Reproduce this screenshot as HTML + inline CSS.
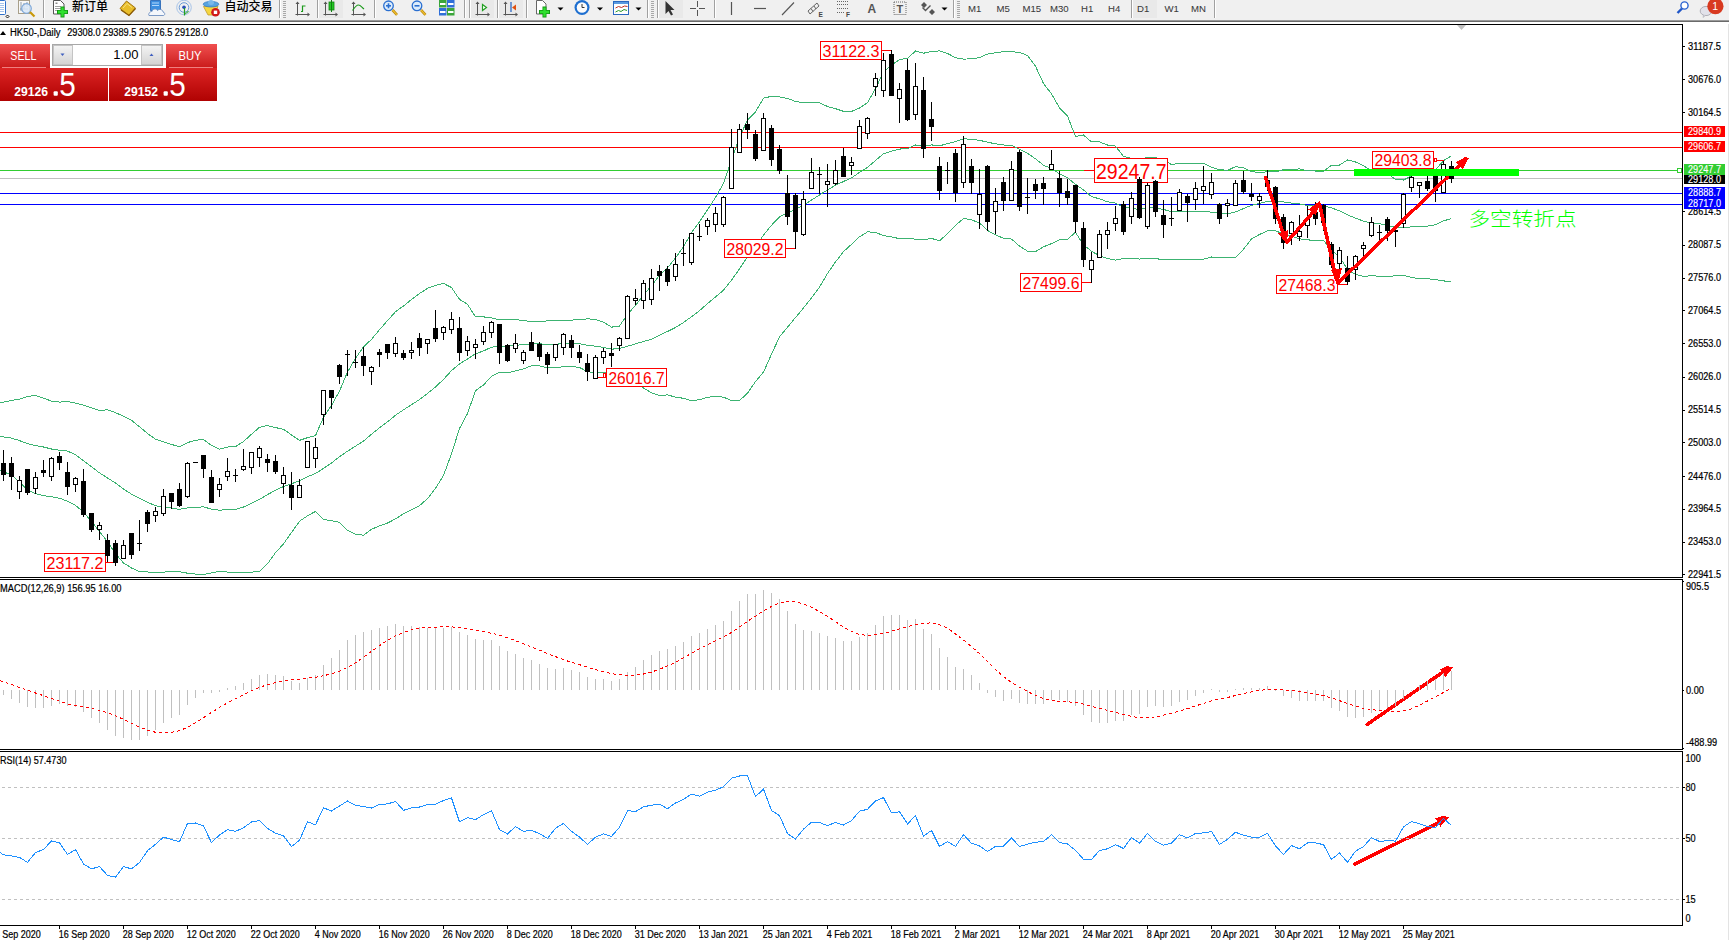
<!DOCTYPE html>
<html><head><meta charset="utf-8"><title>HK50 Daily</title><style>html,body{margin:0;padding:0;background:#fff;width:1729px;height:940px;overflow:hidden}</style></head><body>
<svg width="1729" height="940" viewBox="0 0 1729 940" style="position:absolute;left:0;top:0">
<rect x="0" y="0" width="1729" height="940" fill="#ffffff"/>
<g shape-rendering="crispEdges">
<rect x="0" y="132" width="1682" height="1" fill="#ff0000"/>
<rect x="0" y="147" width="1682" height="1" fill="#ff0000"/>
<rect x="0" y="170" width="1682" height="1" fill="#32cd32"/>
<rect x="0" y="178" width="1682" height="1" fill="#c0c0c0"/>
<rect x="0" y="193" width="1682" height="1" fill="#0000ff"/>
<rect x="0" y="204" width="1682" height="1" fill="#0000ff"/>
</g>
<g fill="none" stroke="#3cb371" stroke-width="1" shape-rendering="crispEdges">
<polyline points="0,402.74 3.5,402.1 11.5,400.5 19.5,399.1 27.5,396.5 35.5,395.5 43.5,398.1 51.5,401.1 59.5,402.1 67.5,401.5 75.5,403.1 83.5,405.2 91.5,407.8 99.5,410.6 107.5,409.8 115.5,412.6 123.5,416.3 131.5,420.3 139.5,426.8 147.5,433.5 155.5,439.25 163.5,441.74 171.5,444.37 179.5,446.9 187.5,442.64 195.5,440.2 203.5,439.44 211.5,445.38 219.5,449.18 227.5,447.04 235.5,446.59 243.5,441.56 251.5,434.25 259.5,427.25 267.5,425.52 275.5,427.59 283.5,429.24 291.5,434.94 299.5,440.37 307.5,437.65 315.5,435.72 323.5,417.17 331.5,405.44 339.5,391.04 347.5,372.06 355.5,358.29 363.5,346.93 371.5,339.34 379.5,329.71 387.5,320.65 395.5,311.66 403.5,305.97 411.5,299.55 419.5,293.56 427.5,288.36 435.5,285.32 443.5,283.37 451.5,287.55 459.5,299.32 467.5,304.33 475.5,316.9 483.5,316.87 491.5,317.93 499.5,319.82 507.5,319.64 515.5,319.71 523.5,320.44 531.5,321.72 539.5,321.67 547.5,320.86 555.5,320.9 563.5,320.06 571.5,320.04 579.5,319.84 587.5,318.77 595.5,319.48 603.5,322.04 611.5,327.15 619.5,326.04 627.5,314.26 635.5,305.48 643.5,294.91 651.5,285.7 659.5,275.31 667.5,267.98 675.5,257.88 683.5,246.71 691.5,232.7 699.5,221.77 707.5,209.86 715.5,197.46 723.5,183.2 731.5,159.84 739.5,137.09 747.5,120.23 755.5,111.9 763.5,98.17 771.5,96.29 779.5,96.82 787.5,98.44 795.5,101.47 803.5,102.63 811.5,102.11 819.5,102.71 827.5,106.47 835.5,108.69 843.5,111.35 851.5,111.49 859.5,108.03 867.5,102.72 875.5,88.78 883.5,71.82 891.5,65.23 899.5,59.5 907.5,58.5 915.5,50.96 923.5,53.26 931.5,51.38 939.5,50.93 947.5,53.39 955.5,57.71 963.5,59.16 971.5,58.75 979.5,57.61 987.5,54.07 995.5,52.67 1003.5,51.61 1011.5,51.66 1019.5,52.49 1027.5,55.42 1035.5,66.14 1043.5,83.63 1051.5,93.75 1059.5,107.84 1067.5,116.03 1075.5,136.56 1083.5,135 1091.5,141.96 1099.5,141.92 1107.5,145.01 1115.5,146.13 1123.5,156.36 1131.5,158.39 1139.5,159.9 1147.5,157.35 1155.5,157.9 1163.5,158.79 1171.5,164.62 1179.5,163.23 1187.5,163.7 1195.5,163.46 1203.5,163.25 1211.5,167.35 1219.5,169.61 1227.5,170.36 1235.5,166.66 1243.5,167.85 1251.5,171.74 1259.5,172.41 1267.5,171.85 1275.5,171.85 1283.5,169.76 1291.5,169.84 1299.5,168.8 1307.5,170.99 1315.5,171 1323.5,171.14 1331.5,165.3 1339.5,165.05 1347.5,159.99 1355.5,161.97 1363.5,165.73 1371.5,170.6 1379.5,171.26 1387.5,173.38 1395.5,179.44 1403.5,180.03 1411.5,176.08 1419.5,173.27 1427.5,173.53 1435.5,169.84 1443.5,160.71 1451.5,155.75"/>
<polyline points="0,436.42 3.5,436.9 11.5,438.1 19.5,440.6 27.5,443.6 35.5,445.6 43.5,447 51.5,449 59.5,450.3 67.5,451.1 75.5,454.7 83.5,460.8 91.5,466.8 99.5,472.9 107.5,478 115.5,483 123.5,489.1 131.5,494.1 139.5,498.2 147.5,502.2 155.5,505.81 163.5,506.89 171.5,508.1 179.5,509.36 187.5,507.91 195.5,507.16 203.5,506.92 211.5,509.12 219.5,510.26 227.5,509.55 235.5,509.41 243.5,507.04 251.5,503.18 259.5,499.32 267.5,494.66 275.5,490.09 283.5,486.59 291.5,483.75 299.5,480.82 307.5,476.74 315.5,473.57 323.5,468.3 331.5,463.1 339.5,456.65 347.5,451.21 355.5,446.2 363.5,441.05 371.5,434.3 379.5,427.81 387.5,421.85 395.5,415.28 403.5,409.79 411.5,404.69 419.5,399.6 427.5,393.5 435.5,386.86 443.5,379.47 451.5,370.6 459.5,363.95 467.5,358.95 475.5,353.82 483.5,350.92 491.5,347.18 499.5,345.95 507.5,346.22 515.5,345.28 523.5,344.65 531.5,343.78 539.5,343.83 547.5,344.4 555.5,344.43 563.5,343.3 571.5,343.16 579.5,343.66 587.5,345.22 595.5,346.19 603.5,347.38 611.5,349.18 619.5,348.51 627.5,346.25 635.5,343.9 643.5,341.45 651.5,339.26 659.5,335.4 667.5,331.45 675.5,327.49 683.5,322.51 691.5,316.69 699.5,310.71 707.5,303.55 715.5,297 723.5,290.16 731.5,280.19 739.5,268.83 747.5,256.73 755.5,246.75 763.5,235.1 771.5,225.27 779.5,216.83 787.5,212.81 795.5,209.5 803.5,205.31 811.5,200.02 819.5,194.96 827.5,189.99 835.5,185.3 843.5,181.49 851.5,177.9 859.5,172.42 867.5,167.31 875.5,160.56 883.5,153.72 891.5,151.08 899.5,149.07 907.5,148.6 915.5,145.01 923.5,146.51 931.5,144.88 939.5,145.87 947.5,143.58 955.5,141.59 963.5,138.81 971.5,139.27 979.5,140.27 987.5,142.23 995.5,143.78 1003.5,144.96 1011.5,145.34 1019.5,149.32 1027.5,153.26 1035.5,158.85 1043.5,165.22 1051.5,168.67 1059.5,173.79 1067.5,177.66 1075.5,184.41 1083.5,189.93 1091.5,196.61 1099.5,198.83 1107.5,201.81 1115.5,203.11 1123.5,207.47 1131.5,208.3 1139.5,209.46 1147.5,207.69 1155.5,208.17 1163.5,209.39 1171.5,211.83 1179.5,211.15 1187.5,211.38 1195.5,211.3 1203.5,211.23 1211.5,212.18 1219.5,213.47 1227.5,213.8 1235.5,211.94 1243.5,208.54 1251.5,205.34 1259.5,203.45 1267.5,201.3 1275.5,201.3 1283.5,201.89 1291.5,203.07 1299.5,203.81 1307.5,205.42 1315.5,205.76 1323.5,205.62 1331.5,207.92 1339.5,210.82 1347.5,214.79 1355.5,218.19 1363.5,221.12 1371.5,223.08 1379.5,223.82 1387.5,225.14 1395.5,227.54 1403.5,227.69 1411.5,226.78 1419.5,226.05 1427.5,226.11 1435.5,224.72 1443.5,220.82 1451.5,218.63"/>
<polyline points="0,470.7 3.5,471.9 11.5,474.9 19.5,482 27.5,490.1 35.5,493.5 43.5,495.6 51.5,496.8 59.5,498.2 67.5,501.2 75.5,505.3 83.5,512.3 91.5,521.4 99.5,531.6 107.5,541.7 115.5,553.8 123.5,562.9 131.5,568 139.5,571.6 147.5,572 155.5,572.37 163.5,572.04 171.5,571.83 179.5,571.81 187.5,573.17 195.5,574.12 203.5,574.41 211.5,572.87 219.5,571.34 227.5,572.07 235.5,572.23 243.5,572.53 251.5,572.11 259.5,571.4 267.5,563.81 275.5,552.6 283.5,543.94 291.5,532.55 299.5,521.27 307.5,515.83 315.5,511.42 323.5,519.43 331.5,520.75 339.5,522.26 347.5,530.37 355.5,534.11 363.5,535.16 371.5,529.25 379.5,525.9 387.5,523.05 395.5,518.9 403.5,513.61 411.5,509.83 419.5,505.65 427.5,498.64 435.5,488.4 443.5,475.56 451.5,453.66 459.5,428.59 467.5,413.58 475.5,390.74 483.5,384.96 491.5,376.42 499.5,372.08 507.5,372.79 515.5,370.85 523.5,368.86 531.5,365.84 539.5,365.99 547.5,367.93 555.5,367.96 563.5,366.53 571.5,366.27 579.5,367.47 587.5,371.66 595.5,372.89 603.5,372.72 611.5,371.21 619.5,370.98 627.5,378.24 635.5,382.32 643.5,387.98 651.5,392.83 659.5,395.5 667.5,394.92 675.5,397.09 683.5,398.31 691.5,400.67 699.5,399.65 707.5,397.24 715.5,396.55 723.5,397.13 731.5,400.55 739.5,400.57 747.5,393.23 755.5,381.59 763.5,372.03 771.5,354.24 779.5,336.84 787.5,327.18 795.5,317.54 803.5,307.99 811.5,297.92 819.5,287.2 827.5,273.51 835.5,261.9 843.5,251.63 851.5,244.31 859.5,236.81 867.5,231.89 875.5,232.34 883.5,235.61 891.5,236.93 899.5,238.65 907.5,238.71 915.5,239.06 923.5,239.77 931.5,238.37 939.5,240.81 947.5,233.78 955.5,225.47 963.5,218.46 971.5,219.79 979.5,222.93 987.5,230.4 995.5,234.9 1003.5,238.31 1011.5,239.03 1019.5,246.15 1027.5,251.11 1035.5,251.56 1043.5,246.82 1051.5,243.59 1059.5,239.74 1067.5,239.3 1075.5,232.27 1083.5,244.86 1091.5,251.26 1099.5,255.75 1107.5,258.61 1115.5,260.09 1123.5,258.57 1131.5,258.21 1139.5,259.02 1147.5,258.04 1155.5,258.43 1163.5,259.99 1171.5,259.04 1179.5,259.07 1187.5,259.07 1195.5,259.14 1203.5,259.21 1211.5,257 1219.5,257.33 1227.5,257.25 1235.5,257.22 1243.5,249.22 1251.5,238.93 1259.5,234.49 1267.5,230.74 1275.5,230.74 1283.5,234.01 1291.5,236.31 1299.5,238.82 1307.5,239.84 1315.5,240.52 1323.5,240.1 1331.5,250.53 1339.5,256.59 1347.5,269.59 1355.5,274.4 1363.5,276.52 1371.5,275.56 1379.5,276.38 1387.5,276.9 1395.5,275.64 1403.5,275.35 1411.5,277.47 1419.5,278.83 1427.5,278.7 1435.5,279.59 1443.5,280.93 1451.5,281.52"/>
</g>
<g shape-rendering="crispEdges" fill="none" stroke="#ff0000" stroke-width="1">
<rect x="820.5" y="41.5" width="61" height="18" fill="#ffffff"/>
<line x1="882" y1="50.5" x2="892" y2="50.5"/>
<rect x="724.5" y="239.5" width="61" height="18" fill="#ffffff"/>
<line x1="786" y1="248.5" x2="796" y2="248.5"/>
<rect x="1020.5" y="273.5" width="61" height="18" fill="#ffffff"/>
<line x1="1082" y1="282.5" x2="1092" y2="282.5"/>
<rect x="606.5" y="368.5" width="60" height="18" fill="#ffffff"/>
<line x1="595" y1="377.5" x2="606" y2="377.5"/>
<rect x="44.5" y="553.5" width="61" height="18" fill="#ffffff"/>
<line x1="106" y1="562.5" x2="116" y2="562.5"/>
<rect x="1276.5" y="275.5" width="61" height="18" fill="#ffffff"/>
<line x1="1338" y1="284.5" x2="1348" y2="284.5"/>
<rect x="1372.5" y="151.5" width="61" height="17" fill="#ffffff"/>
<line x1="1434" y1="160.5" x2="1444" y2="160.5"/>
<rect x="1094.5" y="158.5" width="73" height="24" fill="#ffffff"/>
<line x1="1084" y1="170.5" x2="1094" y2="170.5"/>
</g>
<g shape-rendering="crispEdges" fill="#ffffff" stroke="#ff0000">
<rect x="603.5" y="373.5" width="2" height="4"/>
<rect x="1434.5" y="158.5" width="2" height="3"/>
</g>
<text x="822.5" y="57" font-family="Liberation Sans, Arial, sans-serif" font-size="16.3" fill="#ff0000" textLength="57" lengthAdjust="spacingAndGlyphs">31122.3</text>
<text x="726.5" y="255" font-family="Liberation Sans, Arial, sans-serif" font-size="16.3" fill="#ff0000" textLength="57" lengthAdjust="spacingAndGlyphs">28029.2</text>
<text x="1022.5" y="289" font-family="Liberation Sans, Arial, sans-serif" font-size="16.3" fill="#ff0000" textLength="57" lengthAdjust="spacingAndGlyphs">27499.6</text>
<text x="608.5" y="384" font-family="Liberation Sans, Arial, sans-serif" font-size="16.3" fill="#ff0000" textLength="56" lengthAdjust="spacingAndGlyphs">26016.7</text>
<text x="46.5" y="569" font-family="Liberation Sans, Arial, sans-serif" font-size="16.3" fill="#ff0000" textLength="57" lengthAdjust="spacingAndGlyphs">23117.2</text>
<text x="1278.5" y="291" font-family="Liberation Sans, Arial, sans-serif" font-size="16.3" fill="#ff0000" textLength="57" lengthAdjust="spacingAndGlyphs">27468.3</text>
<text x="1374.5" y="166" font-family="Liberation Sans, Arial, sans-serif" font-size="16.3" fill="#ff0000" textLength="57" lengthAdjust="spacingAndGlyphs">29403.8</text>
<text x="1096" y="179" font-family="Liberation Sans, Arial, sans-serif" font-size="22" fill="#ff0000" textLength="70.5" lengthAdjust="spacingAndGlyphs">29247.7</text>
<g shape-rendering="crispEdges">
<rect x="3" y="450" width="1" height="31" fill="#000"/>
<rect x="1" y="463" width="5" height="12" fill="#000"/>
<rect x="11" y="457" width="1" height="33" fill="#000"/>
<rect x="9" y="463" width="5" height="14" fill="#000"/>
<rect x="19" y="476" width="1" height="23" fill="#000"/>
<rect x="17.5" y="480.5" width="4" height="11" fill="#fff" stroke="#000" stroke-width="1"/>
<rect x="27" y="469" width="1" height="26" fill="#000"/>
<rect x="25" y="469" width="5" height="24" fill="#000"/>
<rect x="35" y="472" width="1" height="22" fill="#000"/>
<rect x="33.5" y="477.5" width="4" height="11" fill="#fff" stroke="#000" stroke-width="1"/>
<rect x="43" y="460" width="1" height="17" fill="#000"/>
<rect x="41" y="470" width="5" height="3" fill="#000"/>
<rect x="51" y="457" width="1" height="24" fill="#000"/>
<rect x="49.5" y="458.5" width="4" height="18" fill="#fff" stroke="#000" stroke-width="1"/>
<rect x="59" y="452" width="1" height="18" fill="#000"/>
<rect x="57" y="456" width="5" height="7" fill="#000"/>
<rect x="67" y="462" width="1" height="33" fill="#000"/>
<rect x="65" y="472" width="5" height="15" fill="#000"/>
<rect x="75" y="477" width="1" height="15" fill="#000"/>
<rect x="73.5" y="478.5" width="4" height="6" fill="#fff" stroke="#000" stroke-width="1"/>
<rect x="83" y="469" width="1" height="48" fill="#000"/>
<rect x="81" y="481" width="5" height="34" fill="#000"/>
<rect x="91" y="513" width="1" height="19" fill="#000"/>
<rect x="89" y="513" width="5" height="17" fill="#000"/>
<rect x="99" y="522" width="1" height="18" fill="#000"/>
<rect x="97.5" y="525.5" width="4" height="4" fill="#fff" stroke="#000" stroke-width="1"/>
<rect x="107" y="534" width="1" height="28" fill="#000"/>
<rect x="105" y="540" width="5" height="16" fill="#000"/>
<rect x="115" y="540" width="1" height="26" fill="#000"/>
<rect x="113" y="543" width="5" height="20" fill="#000"/>
<rect x="123" y="540" width="1" height="19" fill="#000"/>
<rect x="121.5" y="545.5" width="4" height="13" fill="#fff" stroke="#000" stroke-width="1"/>
<rect x="131" y="533" width="1" height="26" fill="#000"/>
<rect x="129" y="533" width="5" height="22" fill="#000"/>
<rect x="139" y="520" width="1" height="31" fill="#000"/>
<rect x="137" y="543" width="5" height="1" fill="#000"/>
<rect x="147" y="510" width="1" height="22" fill="#000"/>
<rect x="145" y="512" width="5" height="12" fill="#000"/>
<rect x="155" y="507" width="1" height="15" fill="#000"/>
<rect x="153.5" y="511.5" width="4" height="4" fill="#fff" stroke="#000" stroke-width="1"/>
<rect x="163" y="489" width="1" height="27" fill="#000"/>
<rect x="161.5" y="496.5" width="4" height="17" fill="#fff" stroke="#000" stroke-width="1"/>
<rect x="171" y="493" width="1" height="16" fill="#000"/>
<rect x="169" y="493" width="5" height="9" fill="#000"/>
<rect x="179" y="483" width="1" height="24" fill="#000"/>
<rect x="177" y="489" width="5" height="17" fill="#000"/>
<rect x="187" y="462" width="1" height="36" fill="#000"/>
<rect x="185.5" y="463.5" width="4" height="33" fill="#fff" stroke="#000" stroke-width="1"/>
<rect x="195" y="462" width="1" height="1" fill="#000"/>
<rect x="193" y="462" width="5" height="1" fill="#000"/>
<rect x="203" y="455" width="1" height="23" fill="#000"/>
<rect x="201" y="455" width="5" height="14" fill="#000"/>
<rect x="211" y="470" width="1" height="33" fill="#000"/>
<rect x="209" y="477" width="5" height="26" fill="#000"/>
<rect x="219" y="478" width="1" height="19" fill="#000"/>
<rect x="217.5" y="484.5" width="4" height="5" fill="#fff" stroke="#000" stroke-width="1"/>
<rect x="227" y="458" width="1" height="23" fill="#000"/>
<rect x="225.5" y="471.5" width="4" height="5" fill="#fff" stroke="#000" stroke-width="1"/>
<rect x="235" y="469" width="1" height="13" fill="#000"/>
<rect x="233" y="475" width="5" height="1" fill="#000"/>
<rect x="243" y="449" width="1" height="22" fill="#000"/>
<rect x="241.5" y="466.5" width="4" height="3" fill="#fff" stroke="#000" stroke-width="1"/>
<rect x="251" y="452" width="1" height="22" fill="#000"/>
<rect x="249.5" y="452.5" width="4" height="15" fill="#fff" stroke="#000" stroke-width="1"/>
<rect x="259" y="446" width="1" height="21" fill="#000"/>
<rect x="257.5" y="448.5" width="4" height="9" fill="#fff" stroke="#000" stroke-width="1"/>
<rect x="267" y="454" width="1" height="18" fill="#000"/>
<rect x="265" y="459" width="5" height="4" fill="#000"/>
<rect x="275" y="455" width="1" height="19" fill="#000"/>
<rect x="273" y="461" width="5" height="11" fill="#000"/>
<rect x="283" y="467" width="1" height="27" fill="#000"/>
<rect x="281.5" y="475.5" width="4" height="8" fill="#fff" stroke="#000" stroke-width="1"/>
<rect x="291" y="472" width="1" height="38" fill="#000"/>
<rect x="289" y="485" width="5" height="13" fill="#000"/>
<rect x="299" y="479" width="1" height="19" fill="#000"/>
<rect x="297.5" y="485.5" width="4" height="12" fill="#fff" stroke="#000" stroke-width="1"/>
<rect x="307" y="441" width="1" height="27" fill="#000"/>
<rect x="305.5" y="441.5" width="4" height="26" fill="#fff" stroke="#000" stroke-width="1"/>
<rect x="315" y="438" width="1" height="30" fill="#000"/>
<rect x="313.5" y="447.5" width="4" height="11" fill="#fff" stroke="#000" stroke-width="1"/>
<rect x="323" y="390" width="1" height="35" fill="#000"/>
<rect x="321.5" y="390.5" width="4" height="24" fill="#fff" stroke="#000" stroke-width="1"/>
<rect x="331" y="390" width="1" height="19" fill="#000"/>
<rect x="329" y="390" width="5" height="8" fill="#000"/>
<rect x="339" y="364" width="1" height="20" fill="#000"/>
<rect x="337" y="365" width="5" height="12" fill="#000"/>
<rect x="347" y="350" width="1" height="26" fill="#000"/>
<rect x="345" y="354" width="5" height="1" fill="#000"/>
<rect x="355" y="350" width="1" height="18" fill="#000"/>
<rect x="353" y="362" width="5" height="1" fill="#000"/>
<rect x="363" y="347" width="1" height="29" fill="#000"/>
<rect x="361" y="356" width="5" height="10" fill="#000"/>
<rect x="371" y="366" width="1" height="19" fill="#000"/>
<rect x="369.5" y="367.5" width="4" height="4" fill="#fff" stroke="#000" stroke-width="1"/>
<rect x="379" y="349" width="1" height="18" fill="#000"/>
<rect x="377" y="352" width="5" height="3" fill="#000"/>
<rect x="387" y="344" width="1" height="15" fill="#000"/>
<rect x="385" y="344" width="5" height="9" fill="#000"/>
<rect x="395" y="337" width="1" height="20" fill="#000"/>
<rect x="393.5" y="343.5" width="4" height="10" fill="#fff" stroke="#000" stroke-width="1"/>
<rect x="403" y="350" width="1" height="10" fill="#000"/>
<rect x="401" y="353" width="5" height="5" fill="#000"/>
<rect x="411" y="342" width="1" height="17" fill="#000"/>
<rect x="409.5" y="350.5" width="4" height="2" fill="#fff" stroke="#000" stroke-width="1"/>
<rect x="419" y="333" width="1" height="23" fill="#000"/>
<rect x="417" y="338" width="5" height="10" fill="#000"/>
<rect x="427" y="339" width="1" height="15" fill="#000"/>
<rect x="425.5" y="339.5" width="4" height="4" fill="#fff" stroke="#000" stroke-width="1"/>
<rect x="435" y="310" width="1" height="32" fill="#000"/>
<rect x="433" y="328" width="5" height="11" fill="#000"/>
<rect x="443" y="326" width="1" height="14" fill="#000"/>
<rect x="441.5" y="327.5" width="4" height="5" fill="#fff" stroke="#000" stroke-width="1"/>
<rect x="451" y="312" width="1" height="22" fill="#000"/>
<rect x="449.5" y="319.5" width="4" height="10" fill="#fff" stroke="#000" stroke-width="1"/>
<rect x="459" y="317" width="1" height="44" fill="#000"/>
<rect x="457" y="328" width="5" height="25" fill="#000"/>
<rect x="467" y="336" width="1" height="20" fill="#000"/>
<rect x="465.5" y="341.5" width="4" height="9" fill="#fff" stroke="#000" stroke-width="1"/>
<rect x="475" y="339" width="1" height="20" fill="#000"/>
<rect x="473.5" y="344.5" width="4" height="3" fill="#fff" stroke="#000" stroke-width="1"/>
<rect x="483" y="326" width="1" height="19" fill="#000"/>
<rect x="481.5" y="332.5" width="4" height="9" fill="#fff" stroke="#000" stroke-width="1"/>
<rect x="491" y="321" width="1" height="17" fill="#000"/>
<rect x="489.5" y="322.5" width="4" height="10" fill="#fff" stroke="#000" stroke-width="1"/>
<rect x="499" y="324" width="1" height="40" fill="#000"/>
<rect x="497" y="324" width="5" height="29" fill="#000"/>
<rect x="507" y="344" width="1" height="18" fill="#000"/>
<rect x="505" y="345" width="5" height="16" fill="#000"/>
<rect x="515" y="334" width="1" height="19" fill="#000"/>
<rect x="513.5" y="343.5" width="4" height="5" fill="#fff" stroke="#000" stroke-width="1"/>
<rect x="523" y="350" width="1" height="14" fill="#000"/>
<rect x="521.5" y="352.5" width="4" height="8" fill="#fff" stroke="#000" stroke-width="1"/>
<rect x="531" y="332" width="1" height="19" fill="#000"/>
<rect x="529" y="342" width="5" height="9" fill="#000"/>
<rect x="539" y="342" width="1" height="19" fill="#000"/>
<rect x="537" y="344" width="5" height="13" fill="#000"/>
<rect x="547" y="352" width="1" height="22" fill="#000"/>
<rect x="545" y="354" width="5" height="11" fill="#000"/>
<rect x="555" y="344" width="1" height="17" fill="#000"/>
<rect x="553.5" y="344.5" width="4" height="13" fill="#fff" stroke="#000" stroke-width="1"/>
<rect x="563" y="333" width="1" height="22" fill="#000"/>
<rect x="561.5" y="334.5" width="4" height="13" fill="#fff" stroke="#000" stroke-width="1"/>
<rect x="571" y="335" width="1" height="23" fill="#000"/>
<rect x="569" y="340" width="5" height="8" fill="#000"/>
<rect x="579" y="345" width="1" height="18" fill="#000"/>
<rect x="577" y="352" width="5" height="6" fill="#000"/>
<rect x="587" y="354" width="1" height="27" fill="#000"/>
<rect x="585" y="363" width="5" height="9" fill="#000"/>
<rect x="595" y="355" width="1" height="24" fill="#000"/>
<rect x="593.5" y="357.5" width="4" height="21" fill="#fff" stroke="#000" stroke-width="1"/>
<rect x="603" y="348" width="1" height="16" fill="#000"/>
<rect x="601.5" y="351.5" width="4" height="6" fill="#fff" stroke="#000" stroke-width="1"/>
<rect x="611" y="343" width="1" height="24" fill="#000"/>
<rect x="609" y="353" width="5" height="3" fill="#000"/>
<rect x="619" y="337" width="1" height="14" fill="#000"/>
<rect x="617.5" y="338.5" width="4" height="7" fill="#fff" stroke="#000" stroke-width="1"/>
<rect x="627" y="295" width="1" height="44" fill="#000"/>
<rect x="625.5" y="296.5" width="4" height="42" fill="#fff" stroke="#000" stroke-width="1"/>
<rect x="635" y="289" width="1" height="16" fill="#000"/>
<rect x="633.5" y="298.5" width="4" height="2" fill="#fff" stroke="#000" stroke-width="1"/>
<rect x="643" y="280" width="1" height="29" fill="#000"/>
<rect x="641.5" y="283.5" width="4" height="17" fill="#fff" stroke="#000" stroke-width="1"/>
<rect x="651" y="269" width="1" height="36" fill="#000"/>
<rect x="649.5" y="278.5" width="4" height="21" fill="#fff" stroke="#000" stroke-width="1"/>
<rect x="659" y="265" width="1" height="26" fill="#000"/>
<rect x="657" y="271" width="5" height="5" fill="#000"/>
<rect x="667" y="266" width="1" height="20" fill="#000"/>
<rect x="665" y="269" width="5" height="13" fill="#000"/>
<rect x="675" y="253" width="1" height="28" fill="#000"/>
<rect x="673.5" y="264.5" width="4" height="12" fill="#fff" stroke="#000" stroke-width="1"/>
<rect x="683" y="239" width="1" height="27" fill="#000"/>
<rect x="681" y="253" width="5" height="1" fill="#000"/>
<rect x="691" y="233" width="1" height="32" fill="#000"/>
<rect x="689.5" y="233.5" width="4" height="29" fill="#fff" stroke="#000" stroke-width="1"/>
<rect x="699" y="224" width="1" height="17" fill="#000"/>
<rect x="697" y="236" width="5" height="1" fill="#000"/>
<rect x="707" y="218" width="1" height="17" fill="#000"/>
<rect x="705.5" y="220.5" width="4" height="6" fill="#fff" stroke="#000" stroke-width="1"/>
<rect x="715" y="207" width="1" height="25" fill="#000"/>
<rect x="713.5" y="213.5" width="4" height="11" fill="#fff" stroke="#000" stroke-width="1"/>
<rect x="723" y="196" width="1" height="31" fill="#000"/>
<rect x="721.5" y="197.5" width="4" height="27" fill="#fff" stroke="#000" stroke-width="1"/>
<rect x="731" y="129" width="1" height="60" fill="#000"/>
<rect x="729.5" y="147.5" width="4" height="41" fill="#fff" stroke="#000" stroke-width="1"/>
<rect x="739" y="124" width="1" height="29" fill="#000"/>
<rect x="737.5" y="129.5" width="4" height="23" fill="#fff" stroke="#000" stroke-width="1"/>
<rect x="747" y="113" width="1" height="26" fill="#000"/>
<rect x="745" y="124" width="5" height="6" fill="#000"/>
<rect x="755" y="130" width="1" height="31" fill="#000"/>
<rect x="753" y="134" width="5" height="25" fill="#000"/>
<rect x="763" y="113" width="1" height="38" fill="#000"/>
<rect x="761.5" y="118.5" width="4" height="32" fill="#fff" stroke="#000" stroke-width="1"/>
<rect x="771" y="125" width="1" height="41" fill="#000"/>
<rect x="769" y="128" width="5" height="32" fill="#000"/>
<rect x="779" y="145" width="1" height="29" fill="#000"/>
<rect x="777" y="149" width="5" height="22" fill="#000"/>
<rect x="787" y="175" width="1" height="50" fill="#000"/>
<rect x="785" y="193" width="5" height="24" fill="#000"/>
<rect x="795" y="193" width="1" height="56" fill="#000"/>
<rect x="793" y="195" width="5" height="37" fill="#000"/>
<rect x="803" y="191" width="1" height="45" fill="#000"/>
<rect x="801.5" y="199.5" width="4" height="35" fill="#fff" stroke="#000" stroke-width="1"/>
<rect x="811" y="158" width="1" height="31" fill="#000"/>
<rect x="809.5" y="172.5" width="4" height="16" fill="#fff" stroke="#000" stroke-width="1"/>
<rect x="819" y="167" width="1" height="27" fill="#000"/>
<rect x="817" y="174" width="5" height="1" fill="#000"/>
<rect x="827" y="164" width="1" height="43" fill="#000"/>
<rect x="825.5" y="181.5" width="4" height="3" fill="#fff" stroke="#000" stroke-width="1"/>
<rect x="835" y="160" width="1" height="25" fill="#000"/>
<rect x="833.5" y="170.5" width="4" height="13" fill="#fff" stroke="#000" stroke-width="1"/>
<rect x="843" y="148" width="1" height="29" fill="#000"/>
<rect x="841" y="156" width="5" height="21" fill="#000"/>
<rect x="851" y="157" width="1" height="18" fill="#000"/>
<rect x="849.5" y="162.5" width="4" height="3" fill="#fff" stroke="#000" stroke-width="1"/>
<rect x="859" y="120" width="1" height="29" fill="#000"/>
<rect x="857.5" y="126.5" width="4" height="22" fill="#fff" stroke="#000" stroke-width="1"/>
<rect x="867" y="117" width="1" height="22" fill="#000"/>
<rect x="865.5" y="118.5" width="4" height="15" fill="#fff" stroke="#000" stroke-width="1"/>
<rect x="875" y="73" width="1" height="23" fill="#000"/>
<rect x="873.5" y="78.5" width="4" height="8" fill="#fff" stroke="#000" stroke-width="1"/>
<rect x="883" y="53" width="1" height="44" fill="#000"/>
<rect x="881.5" y="60.5" width="4" height="30" fill="#fff" stroke="#000" stroke-width="1"/>
<rect x="891" y="50" width="1" height="46" fill="#000"/>
<rect x="889" y="54" width="5" height="42" fill="#000"/>
<rect x="899" y="83" width="1" height="40" fill="#000"/>
<rect x="897.5" y="89.5" width="4" height="9" fill="#fff" stroke="#000" stroke-width="1"/>
<rect x="907" y="59" width="1" height="62" fill="#000"/>
<rect x="905" y="70" width="5" height="50" fill="#000"/>
<rect x="915" y="63" width="1" height="57" fill="#000"/>
<rect x="913.5" y="86.5" width="4" height="28" fill="#fff" stroke="#000" stroke-width="1"/>
<rect x="923" y="77" width="1" height="81" fill="#000"/>
<rect x="921" y="90" width="5" height="59" fill="#000"/>
<rect x="931" y="102" width="1" height="39" fill="#000"/>
<rect x="929" y="119" width="5" height="8" fill="#000"/>
<rect x="939" y="157" width="1" height="43" fill="#000"/>
<rect x="937" y="166" width="5" height="25" fill="#000"/>
<rect x="947" y="162" width="1" height="22" fill="#000"/>
<rect x="945" y="170" width="5" height="1" fill="#000"/>
<rect x="955" y="149" width="1" height="53" fill="#000"/>
<rect x="953" y="153" width="5" height="40" fill="#000"/>
<rect x="963" y="136" width="1" height="52" fill="#000"/>
<rect x="961.5" y="144.5" width="4" height="38" fill="#fff" stroke="#000" stroke-width="1"/>
<rect x="971" y="159" width="1" height="35" fill="#000"/>
<rect x="969" y="166" width="5" height="17" fill="#000"/>
<rect x="979" y="169" width="1" height="60" fill="#000"/>
<rect x="977.5" y="194.5" width="4" height="20" fill="#fff" stroke="#000" stroke-width="1"/>
<rect x="987" y="165" width="1" height="66" fill="#000"/>
<rect x="985" y="166" width="5" height="56" fill="#000"/>
<rect x="995" y="188" width="1" height="46" fill="#000"/>
<rect x="993.5" y="201.5" width="4" height="10" fill="#fff" stroke="#000" stroke-width="1"/>
<rect x="1003" y="177" width="1" height="34" fill="#000"/>
<rect x="1001" y="182" width="5" height="19" fill="#000"/>
<rect x="1011" y="161" width="1" height="40" fill="#000"/>
<rect x="1009.5" y="169.5" width="4" height="31" fill="#fff" stroke="#000" stroke-width="1"/>
<rect x="1019" y="150" width="1" height="61" fill="#000"/>
<rect x="1017" y="152" width="5" height="55" fill="#000"/>
<rect x="1027" y="178" width="1" height="36" fill="#000"/>
<rect x="1025" y="197" width="5" height="1" fill="#000"/>
<rect x="1035" y="179" width="1" height="20" fill="#000"/>
<rect x="1033" y="184" width="5" height="7" fill="#000"/>
<rect x="1043" y="177" width="1" height="28" fill="#000"/>
<rect x="1041" y="183" width="5" height="6" fill="#000"/>
<rect x="1051" y="150" width="1" height="20" fill="#000"/>
<rect x="1049.5" y="164.5" width="4" height="5" fill="#fff" stroke="#000" stroke-width="1"/>
<rect x="1059" y="171" width="1" height="36" fill="#000"/>
<rect x="1057" y="178" width="5" height="15" fill="#000"/>
<rect x="1067" y="179" width="1" height="26" fill="#000"/>
<rect x="1065" y="191" width="5" height="7" fill="#000"/>
<rect x="1075" y="185" width="1" height="48" fill="#000"/>
<rect x="1073" y="185" width="5" height="37" fill="#000"/>
<rect x="1083" y="222" width="1" height="45" fill="#000"/>
<rect x="1081" y="228" width="5" height="32" fill="#000"/>
<rect x="1091" y="252" width="1" height="31" fill="#000"/>
<rect x="1089.5" y="260.5" width="4" height="9" fill="#fff" stroke="#000" stroke-width="1"/>
<rect x="1099" y="230" width="1" height="28" fill="#000"/>
<rect x="1097.5" y="234.5" width="4" height="23" fill="#fff" stroke="#000" stroke-width="1"/>
<rect x="1107" y="222" width="1" height="27" fill="#000"/>
<rect x="1105.5" y="230.5" width="4" height="4" fill="#fff" stroke="#000" stroke-width="1"/>
<rect x="1115" y="206" width="1" height="25" fill="#000"/>
<rect x="1113.5" y="218.5" width="4" height="5" fill="#fff" stroke="#000" stroke-width="1"/>
<rect x="1123" y="201" width="1" height="34" fill="#000"/>
<rect x="1121" y="204" width="5" height="28" fill="#000"/>
<rect x="1131" y="192" width="1" height="32" fill="#000"/>
<rect x="1129.5" y="198.5" width="4" height="18" fill="#fff" stroke="#000" stroke-width="1"/>
<rect x="1139" y="177" width="1" height="42" fill="#000"/>
<rect x="1137" y="179" width="5" height="39" fill="#000"/>
<rect x="1147" y="183" width="1" height="46" fill="#000"/>
<rect x="1145.5" y="185.5" width="4" height="41" fill="#fff" stroke="#000" stroke-width="1"/>
<rect x="1155" y="180" width="1" height="37" fill="#000"/>
<rect x="1153" y="181" width="5" height="31" fill="#000"/>
<rect x="1163" y="200" width="1" height="38" fill="#000"/>
<rect x="1161" y="215" width="5" height="10" fill="#000"/>
<rect x="1171" y="197" width="1" height="29" fill="#000"/>
<rect x="1169" y="218" width="5" height="1" fill="#000"/>
<rect x="1179" y="189" width="1" height="22" fill="#000"/>
<rect x="1177.5" y="192.5" width="4" height="18" fill="#fff" stroke="#000" stroke-width="1"/>
<rect x="1187" y="194" width="1" height="28" fill="#000"/>
<rect x="1185" y="196" width="5" height="7" fill="#000"/>
<rect x="1195" y="182" width="1" height="28" fill="#000"/>
<rect x="1193.5" y="188.5" width="4" height="11" fill="#fff" stroke="#000" stroke-width="1"/>
<rect x="1203" y="166" width="1" height="38" fill="#000"/>
<rect x="1201.5" y="186.5" width="4" height="4" fill="#fff" stroke="#000" stroke-width="1"/>
<rect x="1211" y="173" width="1" height="26" fill="#000"/>
<rect x="1209.5" y="182.5" width="4" height="12" fill="#fff" stroke="#000" stroke-width="1"/>
<rect x="1219" y="203" width="1" height="21" fill="#000"/>
<rect x="1217" y="204" width="5" height="15" fill="#000"/>
<rect x="1227" y="199" width="1" height="18" fill="#000"/>
<rect x="1225.5" y="203.5" width="4" height="2" fill="#fff" stroke="#000" stroke-width="1"/>
<rect x="1235" y="180" width="1" height="26" fill="#000"/>
<rect x="1233.5" y="183.5" width="4" height="22" fill="#fff" stroke="#000" stroke-width="1"/>
<rect x="1243" y="171" width="1" height="23" fill="#000"/>
<rect x="1241" y="180" width="5" height="12" fill="#000"/>
<rect x="1251" y="183" width="1" height="18" fill="#000"/>
<rect x="1249" y="194" width="5" height="3" fill="#000"/>
<rect x="1259" y="193" width="1" height="15" fill="#000"/>
<rect x="1257.5" y="196.5" width="4" height="4" fill="#fff" stroke="#000" stroke-width="1"/>
<rect x="1267" y="170" width="1" height="21" fill="#000"/>
<rect x="1265" y="180" width="5" height="7" fill="#000"/>
<rect x="1275" y="186" width="1" height="38" fill="#000"/>
<rect x="1273" y="187" width="5" height="32" fill="#000"/>
<rect x="1283" y="214" width="1" height="35" fill="#000"/>
<rect x="1281" y="217" width="5" height="26" fill="#000"/>
<rect x="1291" y="221" width="1" height="24" fill="#000"/>
<rect x="1289.5" y="222.5" width="4" height="11" fill="#fff" stroke="#000" stroke-width="1"/>
<rect x="1299" y="215" width="1" height="26" fill="#000"/>
<rect x="1297.5" y="231.5" width="4" height="5" fill="#fff" stroke="#000" stroke-width="1"/>
<rect x="1307" y="206" width="1" height="32" fill="#000"/>
<rect x="1305.5" y="218.5" width="4" height="7" fill="#fff" stroke="#000" stroke-width="1"/>
<rect x="1315" y="202" width="1" height="23" fill="#000"/>
<rect x="1313" y="212" width="5" height="7" fill="#000"/>
<rect x="1323" y="204" width="1" height="27" fill="#000"/>
<rect x="1321" y="205" width="5" height="18" fill="#000"/>
<rect x="1331" y="242" width="1" height="26" fill="#000"/>
<rect x="1329" y="244" width="5" height="21" fill="#000"/>
<rect x="1339" y="247" width="1" height="23" fill="#000"/>
<rect x="1337.5" y="250.5" width="4" height="13" fill="#fff" stroke="#000" stroke-width="1"/>
<rect x="1347" y="256" width="1" height="29" fill="#000"/>
<rect x="1345" y="268" width="5" height="14" fill="#000"/>
<rect x="1355" y="255" width="1" height="25" fill="#000"/>
<rect x="1353.5" y="256.5" width="4" height="13" fill="#fff" stroke="#000" stroke-width="1"/>
<rect x="1363" y="242" width="1" height="15" fill="#000"/>
<rect x="1361.5" y="245.5" width="4" height="3" fill="#fff" stroke="#000" stroke-width="1"/>
<rect x="1371" y="217" width="1" height="20" fill="#000"/>
<rect x="1369.5" y="222.5" width="4" height="13" fill="#fff" stroke="#000" stroke-width="1"/>
<rect x="1379" y="225" width="1" height="16" fill="#000"/>
<rect x="1377" y="232" width="5" height="1" fill="#000"/>
<rect x="1387" y="217" width="1" height="24" fill="#000"/>
<rect x="1385" y="219" width="5" height="12" fill="#000"/>
<rect x="1395" y="230" width="1" height="17" fill="#000"/>
<rect x="1393" y="230" width="5" height="2" fill="#000"/>
<rect x="1403" y="193" width="1" height="35" fill="#000"/>
<rect x="1401.5" y="194.5" width="4" height="29" fill="#fff" stroke="#000" stroke-width="1"/>
<rect x="1411" y="176" width="1" height="16" fill="#000"/>
<rect x="1409.5" y="177.5" width="4" height="10" fill="#fff" stroke="#000" stroke-width="1"/>
<rect x="1419" y="182" width="1" height="16" fill="#000"/>
<rect x="1417.5" y="182.5" width="4" height="3" fill="#fff" stroke="#000" stroke-width="1"/>
<rect x="1427" y="176" width="1" height="15" fill="#000"/>
<rect x="1425" y="181" width="5" height="8" fill="#000"/>
<rect x="1435" y="170" width="1" height="32" fill="#000"/>
<rect x="1433" y="172" width="5" height="19" fill="#000"/>
<rect x="1443" y="161" width="1" height="32" fill="#000"/>
<rect x="1441.5" y="164.5" width="4" height="28" fill="#fff" stroke="#000" stroke-width="1"/>
<rect x="1451" y="161" width="1" height="22" fill="#000"/>
<rect x="1449" y="166" width="5" height="13" fill="#000"/>
</g>
<g stroke="#ff0000" stroke-width="3.5" fill="none" stroke-linecap="round" shape-rendering="crispEdges">
<line x1="1265.5" y1="177.5" x2="1284" y2="236"/>
<line x1="1287" y1="242" x2="1315" y2="210"/>
<line x1="1319.5" y1="204" x2="1336" y2="278"/>
<line x1="1338" y1="283" x2="1459" y2="166"/>
<line x1="1367" y1="724.5" x2="1443" y2="672"/>
<line x1="1355" y1="864" x2="1440" y2="822"/>
</g>
<g fill="#ff0000" shape-rendering="crispEdges">
<polygon points="1278.5,233.5 1288,230 1287,244.5"/>
<polygon points="1308.5,209.5 1320.5,200.5 1316,215"/>
<polygon points="1331.5,270.5 1342,268 1337.5,286"/>
<polygon points="1455.5,162.5 1466,156.5 1468.5,158.5 1462.5,169.5"/>
<polygon points="1440,669.5 1447,666 1453,667.5 1445.5,677"/>
<polygon points="1435.5,818.5 1442,816 1449.5,817 1440.5,826.5"/>
</g>
<g shape-rendering="crispEdges"><rect x="1451" y="161" width="1" height="21" fill="#000"/><rect x="1449" y="166" width="5" height="13" fill="#000"/></g>
<rect x="1354" y="169" width="165" height="7" fill="#00ff00" shape-rendering="crispEdges"/>
<text x="1468.5" y="226.2" font-family="Liberation Sans, Noto Sans CJK SC, sans-serif" font-size="19.6" font-weight="300" fill="#00ff00" textLength="108" lengthAdjust="spacingAndGlyphs">多空转折点</text>
<g shape-rendering="crispEdges" fill="#000">
<rect x="0" y="24" width="1683" height="1"/>
<rect x="1682" y="24" width="1" height="554"/>
<rect x="0" y="577" width="1683" height="1"/>
<rect x="0" y="579" width="1683" height="1"/>
<rect x="1682" y="579" width="1" height="171"/>
<rect x="0" y="749" width="1683" height="1"/>
<rect x="0" y="751" width="1683" height="1"/>
<rect x="1682" y="751" width="1" height="175"/>
<rect x="0" y="925" width="1683" height="1"/>
</g>
<g shape-rendering="crispEdges" fill="#000">
<rect x="1683" y="46" width="2" height="1"/>
<rect x="1683" y="79" width="2" height="1"/>
<rect x="1683" y="112" width="2" height="1"/>
<rect x="1683" y="211" width="2" height="1"/>
<rect x="1683" y="245" width="2" height="1"/>
<rect x="1683" y="278" width="2" height="1"/>
<rect x="1683" y="310" width="2" height="1"/>
<rect x="1683" y="343" width="2" height="1"/>
<rect x="1683" y="377" width="2" height="1"/>
<rect x="1683" y="410" width="2" height="1"/>
<rect x="1683" y="442" width="2" height="1"/>
<rect x="1683" y="476" width="2" height="1"/>
<rect x="1683" y="509" width="2" height="1"/>
<rect x="1683" y="542" width="2" height="1"/>
<rect x="1683" y="574" width="2" height="1"/>
</g>
<text x="1688" y="50" font-family="Liberation Sans, Arial, sans-serif" font-size="10" fill="#000" stroke="#000" stroke-width="0.2" textLength="33" lengthAdjust="spacingAndGlyphs">31187.5</text>
<text x="1688" y="82.75" font-family="Liberation Sans, Arial, sans-serif" font-size="10" fill="#000" stroke="#000" stroke-width="0.2" textLength="33" lengthAdjust="spacingAndGlyphs">30676.0</text>
<text x="1688" y="115.5" font-family="Liberation Sans, Arial, sans-serif" font-size="10" fill="#000" stroke="#000" stroke-width="0.2" textLength="33" lengthAdjust="spacingAndGlyphs">30164.5</text>
<text x="1688" y="214.75" font-family="Liberation Sans, Arial, sans-serif" font-size="10" fill="#000" stroke="#000" stroke-width="0.2" textLength="33" lengthAdjust="spacingAndGlyphs">28614.5</text>
<text x="1688" y="248.49" font-family="Liberation Sans, Arial, sans-serif" font-size="10" fill="#000" stroke="#000" stroke-width="0.2" textLength="33" lengthAdjust="spacingAndGlyphs">28087.5</text>
<text x="1688" y="281.24" font-family="Liberation Sans, Arial, sans-serif" font-size="10" fill="#000" stroke="#000" stroke-width="0.2" textLength="33" lengthAdjust="spacingAndGlyphs">27576.0</text>
<text x="1688" y="314" font-family="Liberation Sans, Arial, sans-serif" font-size="10" fill="#000" stroke="#000" stroke-width="0.2" textLength="33" lengthAdjust="spacingAndGlyphs">27064.5</text>
<text x="1688" y="346.75" font-family="Liberation Sans, Arial, sans-serif" font-size="10" fill="#000" stroke="#000" stroke-width="0.2" textLength="33" lengthAdjust="spacingAndGlyphs">26553.0</text>
<text x="1688" y="380.49" font-family="Liberation Sans, Arial, sans-serif" font-size="10" fill="#000" stroke="#000" stroke-width="0.2" textLength="33" lengthAdjust="spacingAndGlyphs">26026.0</text>
<text x="1688" y="413.24" font-family="Liberation Sans, Arial, sans-serif" font-size="10" fill="#000" stroke="#000" stroke-width="0.2" textLength="33" lengthAdjust="spacingAndGlyphs">25514.5</text>
<text x="1688" y="445.99" font-family="Liberation Sans, Arial, sans-serif" font-size="10" fill="#000" stroke="#000" stroke-width="0.2" textLength="33" lengthAdjust="spacingAndGlyphs">25003.0</text>
<text x="1688" y="479.74" font-family="Liberation Sans, Arial, sans-serif" font-size="10" fill="#000" stroke="#000" stroke-width="0.2" textLength="33" lengthAdjust="spacingAndGlyphs">24476.0</text>
<text x="1688" y="512.49" font-family="Liberation Sans, Arial, sans-serif" font-size="10" fill="#000" stroke="#000" stroke-width="0.2" textLength="33" lengthAdjust="spacingAndGlyphs">23964.5</text>
<text x="1688" y="545.24" font-family="Liberation Sans, Arial, sans-serif" font-size="10" fill="#000" stroke="#000" stroke-width="0.2" textLength="33" lengthAdjust="spacingAndGlyphs">23453.0</text>
<text x="1688" y="577.99" font-family="Liberation Sans, Arial, sans-serif" font-size="10" fill="#000" stroke="#000" stroke-width="0.2" textLength="33" lengthAdjust="spacingAndGlyphs">22941.5</text>
<rect x="1684" y="126" width="41" height="11" fill="#ff0000" shape-rendering="crispEdges"/>
<rect x="1684" y="141" width="41" height="11" fill="#ff0000" shape-rendering="crispEdges"/>
<rect x="1684" y="164" width="41" height="11" fill="#32cd32" shape-rendering="crispEdges"/>
<rect x="1684" y="175" width="41" height="9" fill="#000000" shape-rendering="crispEdges"/>
<rect x="1684" y="187" width="41" height="11" fill="#0000ff" shape-rendering="crispEdges"/>
<rect x="1684" y="198" width="41" height="11" fill="#0000ff" shape-rendering="crispEdges"/>
<text x="1688" y="135.1" font-family="Liberation Sans, Arial, sans-serif" font-size="10" fill="#fff" stroke="#fff" stroke-width="0.12" textLength="33" lengthAdjust="spacingAndGlyphs">29840.9</text>
<text x="1688" y="150.1" font-family="Liberation Sans, Arial, sans-serif" font-size="10" fill="#fff" stroke="#fff" stroke-width="0.12" textLength="33" lengthAdjust="spacingAndGlyphs">29606.7</text>
<text x="1688" y="173.1" font-family="Liberation Sans, Arial, sans-serif" font-size="10" fill="#fff" stroke="#fff" stroke-width="0.12" textLength="33" lengthAdjust="spacingAndGlyphs">29247.7</text>
<text x="1688" y="183.1" font-family="Liberation Sans, Arial, sans-serif" font-size="10" fill="#fff" stroke="#fff" stroke-width="0.12" textLength="33" lengthAdjust="spacingAndGlyphs">29128.0</text>
<text x="1688" y="196.1" font-family="Liberation Sans, Arial, sans-serif" font-size="10" fill="#fff" stroke="#fff" stroke-width="0.12" textLength="33" lengthAdjust="spacingAndGlyphs">28888.7</text>
<text x="1688" y="207.1" font-family="Liberation Sans, Arial, sans-serif" font-size="10" fill="#fff" stroke="#fff" stroke-width="0.12" textLength="33" lengthAdjust="spacingAndGlyphs">28717.0</text>
<rect x="1677.5" y="168.5" width="4" height="4" fill="#fff" stroke="#32cd32" shape-rendering="crispEdges"/>
<g shape-rendering="crispEdges" fill="#c0c0c0">
<rect x="3" y="690" width="1" height="5"/>
<rect x="11" y="690" width="1" height="9"/>
<rect x="19" y="690" width="1" height="13"/>
<rect x="27" y="690" width="1" height="17"/>
<rect x="35" y="690" width="1" height="18"/>
<rect x="43" y="690" width="1" height="18"/>
<rect x="51" y="690" width="1" height="16"/>
<rect x="59" y="690" width="1" height="14"/>
<rect x="67" y="690" width="1" height="16"/>
<rect x="75" y="690" width="1" height="17"/>
<rect x="83" y="690" width="1" height="22"/>
<rect x="91" y="690" width="1" height="28"/>
<rect x="99" y="690" width="1" height="33"/>
<rect x="107" y="690" width="1" height="40"/>
<rect x="115" y="690" width="1" height="46"/>
<rect x="123" y="690" width="1" height="48"/>
<rect x="131" y="690" width="1" height="50"/>
<rect x="139" y="690" width="1" height="50"/>
<rect x="147" y="690" width="1" height="46"/>
<rect x="155" y="690" width="1" height="40"/>
<rect x="163" y="690" width="1" height="33"/>
<rect x="171" y="690" width="1" height="28"/>
<rect x="179" y="690" width="1" height="25"/>
<rect x="187" y="690" width="1" height="15"/>
<rect x="195" y="690" width="1" height="8"/>
<rect x="203" y="690" width="1" height="3"/>
<rect x="211" y="690" width="1" height="3"/>
<rect x="219" y="690" width="1" height="2"/>
<rect x="227" y="688" width="1" height="2"/>
<rect x="235" y="686" width="1" height="4"/>
<rect x="243" y="683" width="1" height="7"/>
<rect x="251" y="679" width="1" height="11"/>
<rect x="259" y="675" width="1" height="15"/>
<rect x="267" y="674" width="1" height="16"/>
<rect x="275" y="675" width="1" height="15"/>
<rect x="283" y="676" width="1" height="14"/>
<rect x="291" y="681" width="1" height="9"/>
<rect x="299" y="683" width="1" height="7"/>
<rect x="307" y="678" width="1" height="12"/>
<rect x="315" y="675" width="1" height="15"/>
<rect x="323" y="665" width="1" height="25"/>
<rect x="331" y="658" width="1" height="32"/>
<rect x="339" y="650" width="1" height="40"/>
<rect x="347" y="640" width="1" height="50"/>
<rect x="355" y="635" width="1" height="55"/>
<rect x="363" y="632" width="1" height="58"/>
<rect x="371" y="630" width="1" height="60"/>
<rect x="379" y="628" width="1" height="62"/>
<rect x="387" y="626" width="1" height="64"/>
<rect x="395" y="624" width="1" height="66"/>
<rect x="403" y="626" width="1" height="64"/>
<rect x="411" y="626" width="1" height="64"/>
<rect x="419" y="627" width="1" height="63"/>
<rect x="427" y="628" width="1" height="62"/>
<rect x="435" y="628" width="1" height="62"/>
<rect x="443" y="628" width="1" height="62"/>
<rect x="451" y="627" width="1" height="63"/>
<rect x="459" y="632" width="1" height="58"/>
<rect x="467" y="635" width="1" height="55"/>
<rect x="475" y="639" width="1" height="51"/>
<rect x="483" y="640" width="1" height="50"/>
<rect x="491" y="640" width="1" height="50"/>
<rect x="499" y="646" width="1" height="44"/>
<rect x="507" y="651" width="1" height="39"/>
<rect x="515" y="654" width="1" height="36"/>
<rect x="523" y="658" width="1" height="32"/>
<rect x="531" y="660" width="1" height="30"/>
<rect x="539" y="664" width="1" height="26"/>
<rect x="547" y="668" width="1" height="22"/>
<rect x="555" y="669" width="1" height="21"/>
<rect x="563" y="668" width="1" height="22"/>
<rect x="571" y="670" width="1" height="20"/>
<rect x="579" y="672" width="1" height="18"/>
<rect x="587" y="677" width="1" height="13"/>
<rect x="595" y="679" width="1" height="11"/>
<rect x="603" y="679" width="1" height="11"/>
<rect x="611" y="681" width="1" height="9"/>
<rect x="619" y="679" width="1" height="11"/>
<rect x="627" y="672" width="1" height="18"/>
<rect x="635" y="667" width="1" height="23"/>
<rect x="643" y="660" width="1" height="30"/>
<rect x="651" y="655" width="1" height="35"/>
<rect x="659" y="651" width="1" height="39"/>
<rect x="667" y="649" width="1" height="41"/>
<rect x="675" y="646" width="1" height="44"/>
<rect x="683" y="642" width="1" height="48"/>
<rect x="691" y="636" width="1" height="54"/>
<rect x="699" y="633" width="1" height="57"/>
<rect x="707" y="629" width="1" height="61"/>
<rect x="715" y="625" width="1" height="65"/>
<rect x="723" y="621" width="1" height="69"/>
<rect x="731" y="611" width="1" height="79"/>
<rect x="739" y="601" width="1" height="89"/>
<rect x="747" y="594" width="1" height="96"/>
<rect x="755" y="594" width="1" height="96"/>
<rect x="763" y="590" width="1" height="100"/>
<rect x="771" y="593" width="1" height="97"/>
<rect x="779" y="599" width="1" height="91"/>
<rect x="787" y="611" width="1" height="79"/>
<rect x="795" y="624" width="1" height="66"/>
<rect x="803" y="630" width="1" height="60"/>
<rect x="811" y="631" width="1" height="59"/>
<rect x="819" y="633" width="1" height="57"/>
<rect x="827" y="636" width="1" height="54"/>
<rect x="835" y="638" width="1" height="52"/>
<rect x="843" y="641" width="1" height="49"/>
<rect x="851" y="641" width="1" height="49"/>
<rect x="859" y="637" width="1" height="53"/>
<rect x="867" y="633" width="1" height="57"/>
<rect x="875" y="625" width="1" height="65"/>
<rect x="883" y="616" width="1" height="74"/>
<rect x="891" y="615" width="1" height="75"/>
<rect x="899" y="615" width="1" height="75"/>
<rect x="907" y="620" width="1" height="70"/>
<rect x="915" y="619" width="1" height="71"/>
<rect x="923" y="629" width="1" height="61"/>
<rect x="931" y="634" width="1" height="56"/>
<rect x="939" y="648" width="1" height="42"/>
<rect x="947" y="657" width="1" height="33"/>
<rect x="955" y="667" width="1" height="23"/>
<rect x="963" y="669" width="1" height="21"/>
<rect x="971" y="675" width="1" height="15"/>
<rect x="979" y="683" width="1" height="7"/>
<rect x="987" y="690" width="1" height="3"/>
<rect x="995" y="690" width="1" height="7"/>
<rect x="1003" y="690" width="1" height="11"/>
<rect x="1011" y="690" width="1" height="9"/>
<rect x="1019" y="690" width="1" height="13"/>
<rect x="1027" y="690" width="1" height="14"/>
<rect x="1035" y="690" width="1" height="14"/>
<rect x="1043" y="690" width="1" height="14"/>
<rect x="1051" y="690" width="1" height="10"/>
<rect x="1059" y="690" width="1" height="10"/>
<rect x="1067" y="690" width="1" height="12"/>
<rect x="1075" y="690" width="1" height="16"/>
<rect x="1083" y="690" width="1" height="25"/>
<rect x="1091" y="690" width="1" height="32"/>
<rect x="1099" y="690" width="1" height="33"/>
<rect x="1107" y="690" width="1" height="33"/>
<rect x="1115" y="690" width="1" height="31"/>
<rect x="1123" y="690" width="1" height="31"/>
<rect x="1131" y="690" width="1" height="25"/>
<rect x="1139" y="690" width="1" height="24"/>
<rect x="1147" y="690" width="1" height="17"/>
<rect x="1155" y="690" width="1" height="16"/>
<rect x="1163" y="690" width="1" height="17"/>
<rect x="1171" y="690" width="1" height="16"/>
<rect x="1179" y="690" width="1" height="12"/>
<rect x="1187" y="690" width="1" height="10"/>
<rect x="1195" y="690" width="1" height="6"/>
<rect x="1203" y="690" width="1" height="3"/>
<rect x="1211" y="689" width="1" height="1"/>
<rect x="1219" y="690" width="1" height="2"/>
<rect x="1227" y="690" width="1" height="2"/>
<rect x="1235" y="689" width="1" height="1"/>
<rect x="1243" y="688" width="1" height="2"/>
<rect x="1251" y="688" width="1" height="2"/>
<rect x="1259" y="688" width="1" height="2"/>
<rect x="1267" y="686" width="1" height="4"/>
<rect x="1275" y="690" width="1" height="1"/>
<rect x="1283" y="690" width="1" height="6"/>
<rect x="1291" y="690" width="1" height="8"/>
<rect x="1299" y="690" width="1" height="11"/>
<rect x="1307" y="690" width="1" height="11"/>
<rect x="1315" y="690" width="1" height="11"/>
<rect x="1323" y="690" width="1" height="11"/>
<rect x="1331" y="690" width="1" height="18"/>
<rect x="1339" y="690" width="1" height="21"/>
<rect x="1347" y="690" width="1" height="27"/>
<rect x="1355" y="690" width="1" height="28"/>
<rect x="1363" y="690" width="1" height="27"/>
<rect x="1371" y="690" width="1" height="23"/>
<rect x="1379" y="690" width="1" height="20"/>
<rect x="1387" y="690" width="1" height="18"/>
<rect x="1395" y="690" width="1" height="16"/>
<rect x="1403" y="690" width="1" height="9"/>
<rect x="1411" y="690" width="1" height="1"/>
<rect x="1419" y="685" width="1" height="5"/>
<rect x="1427" y="681" width="1" height="9"/>
<rect x="1435" y="679" width="1" height="11"/>
<rect x="1443" y="673" width="1" height="17"/>
<rect x="1451" y="671" width="1" height="19"/>
</g>
<polyline points="0,680.54 3.5,681.8 11.5,684.6 19.5,687.4 27.5,690.2 35.5,693 43.5,695.7 51.5,698.4 59.5,701.2 67.5,703.96 75.5,705.28 83.5,706.75 91.5,708.52 99.5,710.24 107.5,712.65 115.5,715.75 123.5,719.33 131.5,723.32 139.5,727.02 147.5,730.25 155.5,732.27 163.5,732.82 171.5,732.36 179.5,730.7 187.5,727.3 195.5,722.85 203.5,717.57 211.5,712.44 219.5,707.52 227.5,702.83 235.5,698.66 243.5,694.74 251.5,690.72 259.5,687.31 267.5,684.67 275.5,682.7 283.5,680.8 291.5,679.62 299.5,679.04 307.5,678.15 315.5,677.28 323.5,675.73 331.5,673.82 339.5,671.11 347.5,667.28 355.5,662.67 363.5,657.19 371.5,651.33 379.5,645.74 387.5,640.3 395.5,635.84 403.5,632.3 411.5,629.74 419.5,628.29 427.5,627.49 435.5,627.12 443.5,626.9 451.5,626.87 459.5,627.55 467.5,628.77 475.5,630.22 483.5,631.75 491.5,633.21 499.5,635.2 507.5,637.75 515.5,640.61 523.5,643.96 531.5,647.07 539.5,650.23 547.5,653.48 555.5,656.64 563.5,659.7 571.5,662.36 579.5,664.7 587.5,667.28 595.5,669.64 603.5,671.75 611.5,673.61 619.5,674.84 627.5,675.19 635.5,675.02 643.5,674.01 651.5,672.11 659.5,669.24 667.5,665.97 675.5,662.24 683.5,657.93 691.5,653.19 699.5,648.9 707.5,644.73 715.5,640.83 723.5,637 731.5,632.5 739.5,627.13 747.5,621.4 755.5,616.12 763.5,610.93 771.5,606.49 779.5,603.12 787.5,601.52 795.5,601.84 803.5,603.95 811.5,607.3 819.5,611.61 827.5,616.27 835.5,621.62 843.5,626.89 851.5,631.6 859.5,634.48 867.5,635.5 875.5,634.93 883.5,633.25 891.5,631.29 899.5,628.89 907.5,626.87 915.5,624.51 923.5,623.19 931.5,622.91 939.5,624.64 947.5,628.26 955.5,633.96 963.5,639.88 971.5,646.61 979.5,653.61 987.5,661.74 995.5,669.31 1003.5,676.7 1011.5,682.3 1019.5,687.37 1027.5,691.47 1035.5,695.43 1043.5,698.57 1051.5,700.45 1059.5,701.32 1067.5,701.8 1075.5,702.38 1083.5,704.17 1091.5,706.31 1099.5,708.41 1107.5,710.5 1115.5,712.39 1123.5,714.73 1131.5,716.39 1139.5,717.73 1147.5,717.88 1155.5,716.88 1163.5,715.21 1171.5,713.35 1179.5,711.02 1187.5,708.69 1195.5,705.95 1203.5,703.44 1211.5,700.74 1219.5,699.04 1227.5,697.49 1235.5,695.51 1243.5,693.44 1251.5,691.84 1259.5,690.48 1267.5,689.38 1275.5,689.03 1283.5,689.77 1291.5,690.42 1299.5,691.4 1307.5,692.71 1315.5,694.15 1323.5,695.66 1331.5,697.9 1339.5,700.62 1347.5,703.69 1355.5,706.16 1363.5,708.3 1371.5,709.6 1379.5,710.65 1387.5,711.43 1395.5,711.96 1403.5,710.97 1411.5,708.75 1419.5,705.15 1427.5,701.04 1435.5,696.77 1443.5,692.4 1451.5,688.06" fill="none" stroke="#ff0000" stroke-width="1" stroke-dasharray="3 3" shape-rendering="crispEdges"/>
<text x="0" y="592" font-family="Liberation Sans, Arial, sans-serif" font-size="10" fill="#000" stroke="#000" stroke-width="0.2" textLength="121.5" lengthAdjust="spacingAndGlyphs">MACD(12,26,9) 156.95 16.00</text>
<text transform="translate(1686 590) scale(0.92 1)" font-family="Liberation Sans, Arial, sans-serif" font-size="10" fill="#000" stroke="#000" stroke-width="0.2">905.5</text>
<text transform="translate(1686 694) scale(0.92 1)" font-family="Liberation Sans, Arial, sans-serif" font-size="10" fill="#000" stroke="#000" stroke-width="0.2">0.00</text>
<text transform="translate(1686 746) scale(0.92 1)" font-family="Liberation Sans, Arial, sans-serif" font-size="10" fill="#000" stroke="#000" stroke-width="0.2">-488.99</text>
<g shape-rendering="crispEdges" fill="#000"><rect x="1683" y="581" width="1" height="1"/><rect x="1683" y="690" width="1" height="1"/><rect x="1683" y="748" width="1" height="1"/></g>
<g shape-rendering="crispEdges" fill="none" stroke="#c0c0c0" stroke-dasharray="3 3">
<line x1="2" y1="787.5" x2="1682" y2="787.5"/>
<line x1="2" y1="838.5" x2="1682" y2="838.5"/>
<line x1="2" y1="899.5" x2="1682" y2="899.5"/>
</g>
<polyline points="0,852.3 3.5,854.85 11.5,855.87 19.5,857.43 27.5,862.36 35.5,852.52 43.5,849.51 51.5,840.96 59.5,842.81 67.5,854.5 75.5,849.61 83.5,864.05 91.5,868.85 99.5,866.63 107.5,875.31 115.5,877.22 123.5,866.42 131.5,868.95 139.5,862.52 147.5,850.68 155.5,844.3 163.5,837.07 171.5,839.52 179.5,841.77 187.5,823.29 195.5,823 203.5,826.02 211.5,842.71 219.5,834.88 227.5,829.69 235.5,831.35 243.5,827.87 251.5,821.9 259.5,820.66 267.5,828.3 275.5,833.28 283.5,835.83 291.5,846.49 299.5,840.25 307.5,821.79 315.5,824.85 323.5,807.75 331.5,810.99 339.5,805.94 347.5,801.05 355.5,805.14 363.5,806.57 371.5,808.03 379.5,804.52 387.5,803.92 395.5,801.44 403.5,810.3 411.5,807.97 419.5,807.02 427.5,804.62 435.5,804.08 443.5,800.58 451.5,798.02 459.5,821.92 467.5,817.6 475.5,819.72 483.5,814.58 491.5,810.61 499.5,829.7 507.5,833.99 515.5,826.5 523.5,831.39 531.5,830.28 539.5,833.68 547.5,838.42 555.5,828.17 563.5,823.45 571.5,831.32 579.5,837.04 587.5,844.52 595.5,837.07 603.5,833.94 611.5,836.38 619.5,827.42 627.5,810.65 635.5,811.55 643.5,806.77 651.5,805.25 659.5,804.11 667.5,808.72 675.5,802.96 683.5,799.38 691.5,794.06 699.5,796.25 707.5,792.1 715.5,790.32 723.5,786.64 731.5,778.24 739.5,775.99 747.5,775.91 755.5,796.62 763.5,789.17 771.5,810.52 779.5,815.62 787.5,833.7 795.5,838.93 803.5,829.14 811.5,822.1 819.5,822.55 827.5,825.64 835.5,822.41 843.5,825.07 851.5,820.52 859.5,811.23 867.5,809.26 875.5,800.87 883.5,797.62 891.5,812.99 899.5,811.77 907.5,823.89 915.5,815.7 923.5,836.14 931.5,830.47 939.5,846.53 947.5,841.48 955.5,846.41 963.5,834.67 971.5,843.32 979.5,845.9 987.5,851.55 995.5,846.34 1003.5,846.02 1011.5,837.83 1019.5,846.58 1027.5,844.16 1035.5,842.21 1043.5,841.57 1051.5,834.58 1059.5,842.58 1067.5,843.99 1075.5,850.38 1083.5,859.3 1091.5,859.45 1099.5,850.43 1107.5,848.8 1115.5,844.59 1123.5,848.5 1131.5,837.45 1139.5,843.2 1147.5,833.45 1155.5,841.21 1163.5,845.23 1171.5,843.03 1179.5,834.73 1187.5,837.86 1195.5,833.53 1203.5,832.9 1211.5,831.53 1219.5,844.49 1227.5,839.26 1235.5,832.29 1243.5,835.13 1251.5,837.02 1259.5,837.43 1267.5,833.29 1275.5,845.98 1283.5,854.4 1291.5,845.6 1299.5,848.84 1307.5,842.92 1315.5,842.92 1323.5,844.64 1331.5,859.47 1339.5,853.04 1347.5,862.21 1355.5,851.15 1363.5,846.64 1371.5,837.6 1379.5,841.51 1387.5,840.52 1395.5,841.12 1403.5,826.84 1411.5,821.58 1419.5,823.81 1427.5,826.53 1435.5,827.42 1443.5,818.45 1451.5,825.5" fill="none" stroke="#1e90ff" stroke-width="1" shape-rendering="crispEdges"/>
<text x="0" y="764" font-family="Liberation Sans, Arial, sans-serif" font-size="10" fill="#000" stroke="#000" stroke-width="0.2" textLength="66.5" lengthAdjust="spacingAndGlyphs">RSI(14) 57.4730</text>
<text transform="translate(1685.5 762) scale(0.92 1)" font-family="Liberation Sans, Arial, sans-serif" font-size="10" fill="#000" stroke="#000" stroke-width="0.2">100</text>
<text transform="translate(1685.5 791) scale(0.92 1)" font-family="Liberation Sans, Arial, sans-serif" font-size="10" fill="#000" stroke="#000" stroke-width="0.2">80</text>
<text transform="translate(1685.5 842) scale(0.92 1)" font-family="Liberation Sans, Arial, sans-serif" font-size="10" fill="#000" stroke="#000" stroke-width="0.2">50</text>
<text transform="translate(1685.5 903) scale(0.92 1)" font-family="Liberation Sans, Arial, sans-serif" font-size="10" fill="#000" stroke="#000" stroke-width="0.2">15</text>
<text transform="translate(1685.5 922) scale(0.92 1)" font-family="Liberation Sans, Arial, sans-serif" font-size="10" fill="#000" stroke="#000" stroke-width="0.2">0</text>
<g shape-rendering="crispEdges" fill="#000"><rect x="1683" y="787" width="2" height="1"/><rect x="1683" y="838" width="2" height="1"/><rect x="1683" y="899" width="2" height="1"/></g>
<g shape-rendering="crispEdges" fill="#000">
<rect x="-5" y="926" width="1" height="3"/>
<rect x="59" y="926" width="1" height="3"/>
<rect x="123" y="926" width="1" height="3"/>
<rect x="187" y="926" width="1" height="3"/>
<rect x="251" y="926" width="1" height="3"/>
<rect x="315" y="926" width="1" height="3"/>
<rect x="379" y="926" width="1" height="3"/>
<rect x="443" y="926" width="1" height="3"/>
<rect x="507" y="926" width="1" height="3"/>
<rect x="571" y="926" width="1" height="3"/>
<rect x="635" y="926" width="1" height="3"/>
<rect x="699" y="926" width="1" height="3"/>
<rect x="763" y="926" width="1" height="3"/>
<rect x="827" y="926" width="1" height="3"/>
<rect x="891" y="926" width="1" height="3"/>
<rect x="955" y="926" width="1" height="3"/>
<rect x="1019" y="926" width="1" height="3"/>
<rect x="1083" y="926" width="1" height="3"/>
<rect x="1147" y="926" width="1" height="3"/>
<rect x="1211" y="926" width="1" height="3"/>
<rect x="1275" y="926" width="1" height="3"/>
<rect x="1339" y="926" width="1" height="3"/>
<rect x="1403" y="926" width="1" height="3"/>
</g>
<text transform="translate(-5.3 938) scale(0.9 1)" font-family="Liberation Sans, Arial, sans-serif" font-size="10" fill="#000" stroke="#000" stroke-width="0.2">4 Sep 2020</text>
<text transform="translate(58.7 938) scale(0.9 1)" font-family="Liberation Sans, Arial, sans-serif" font-size="10" fill="#000" stroke="#000" stroke-width="0.2">16 Sep 2020</text>
<text transform="translate(122.7 938) scale(0.9 1)" font-family="Liberation Sans, Arial, sans-serif" font-size="10" fill="#000" stroke="#000" stroke-width="0.2">28 Sep 2020</text>
<text transform="translate(186.7 938) scale(0.9 1)" font-family="Liberation Sans, Arial, sans-serif" font-size="10" fill="#000" stroke="#000" stroke-width="0.2">12 Oct 2020</text>
<text transform="translate(250.7 938) scale(0.9 1)" font-family="Liberation Sans, Arial, sans-serif" font-size="10" fill="#000" stroke="#000" stroke-width="0.2">22 Oct 2020</text>
<text transform="translate(314.7 938) scale(0.9 1)" font-family="Liberation Sans, Arial, sans-serif" font-size="10" fill="#000" stroke="#000" stroke-width="0.2">4 Nov 2020</text>
<text transform="translate(378.7 938) scale(0.9 1)" font-family="Liberation Sans, Arial, sans-serif" font-size="10" fill="#000" stroke="#000" stroke-width="0.2">16 Nov 2020</text>
<text transform="translate(442.7 938) scale(0.9 1)" font-family="Liberation Sans, Arial, sans-serif" font-size="10" fill="#000" stroke="#000" stroke-width="0.2">26 Nov 2020</text>
<text transform="translate(506.7 938) scale(0.9 1)" font-family="Liberation Sans, Arial, sans-serif" font-size="10" fill="#000" stroke="#000" stroke-width="0.2">8 Dec 2020</text>
<text transform="translate(570.7 938) scale(0.9 1)" font-family="Liberation Sans, Arial, sans-serif" font-size="10" fill="#000" stroke="#000" stroke-width="0.2">18 Dec 2020</text>
<text transform="translate(634.7 938) scale(0.9 1)" font-family="Liberation Sans, Arial, sans-serif" font-size="10" fill="#000" stroke="#000" stroke-width="0.2">31 Dec 2020</text>
<text transform="translate(698.7 938) scale(0.9 1)" font-family="Liberation Sans, Arial, sans-serif" font-size="10" fill="#000" stroke="#000" stroke-width="0.2">13 Jan 2021</text>
<text transform="translate(762.7 938) scale(0.9 1)" font-family="Liberation Sans, Arial, sans-serif" font-size="10" fill="#000" stroke="#000" stroke-width="0.2">25 Jan 2021</text>
<text transform="translate(826.7 938) scale(0.9 1)" font-family="Liberation Sans, Arial, sans-serif" font-size="10" fill="#000" stroke="#000" stroke-width="0.2">4 Feb 2021</text>
<text transform="translate(890.7 938) scale(0.9 1)" font-family="Liberation Sans, Arial, sans-serif" font-size="10" fill="#000" stroke="#000" stroke-width="0.2">18 Feb 2021</text>
<text transform="translate(954.7 938) scale(0.9 1)" font-family="Liberation Sans, Arial, sans-serif" font-size="10" fill="#000" stroke="#000" stroke-width="0.2">2 Mar 2021</text>
<text transform="translate(1018.7 938) scale(0.9 1)" font-family="Liberation Sans, Arial, sans-serif" font-size="10" fill="#000" stroke="#000" stroke-width="0.2">12 Mar 2021</text>
<text transform="translate(1082.7 938) scale(0.9 1)" font-family="Liberation Sans, Arial, sans-serif" font-size="10" fill="#000" stroke="#000" stroke-width="0.2">24 Mar 2021</text>
<text transform="translate(1146.7 938) scale(0.9 1)" font-family="Liberation Sans, Arial, sans-serif" font-size="10" fill="#000" stroke="#000" stroke-width="0.2">8 Apr 2021</text>
<text transform="translate(1210.7 938) scale(0.9 1)" font-family="Liberation Sans, Arial, sans-serif" font-size="10" fill="#000" stroke="#000" stroke-width="0.2">20 Apr 2021</text>
<text transform="translate(1274.7 938) scale(0.9 1)" font-family="Liberation Sans, Arial, sans-serif" font-size="10" fill="#000" stroke="#000" stroke-width="0.2">30 Apr 2021</text>
<text transform="translate(1338.7 938) scale(0.9 1)" font-family="Liberation Sans, Arial, sans-serif" font-size="10" fill="#000" stroke="#000" stroke-width="0.2">12 May 2021</text>
<text transform="translate(1402.7 938) scale(0.9 1)" font-family="Liberation Sans, Arial, sans-serif" font-size="10" fill="#000" stroke="#000" stroke-width="0.2">25 May 2021</text>
<polygon points="0,35 3,31 6,35" fill="#000"/>
<text x="10" y="36" font-family="Liberation Sans, Arial, sans-serif" font-size="10" fill="#000" stroke="#000" stroke-width="0.2" textLength="50.5" lengthAdjust="spacingAndGlyphs">HK50-,Daily</text>
<text x="67.2" y="36" font-family="Liberation Sans, Arial, sans-serif" font-size="10" fill="#000" stroke="#000" stroke-width="0.2" textLength="141" lengthAdjust="spacingAndGlyphs">29308.0 29389.5 29076.5 29128.0</text>
<polygon points="1457,25 1466,25 1461.5,30" fill="#c0c0c0"/>
<rect x="1728" y="22" width="1" height="918" fill="#e3e3e3"/>
<rect x="0" y="0" width="1729" height="20" fill="#f0f0f0"/>
<rect x="0" y="20" width="1729" height="1" fill="#9a9a9a"/>
<rect x="0" y="21" width="1729" height="1" fill="#6a6a6a"/>
<rect x="0" y="22" width="1729" height="2" fill="#ffffff"/>
<rect x="318" y="0" width="25" height="18" fill="#e9e9e9"/>
<rect x="470" y="0" width="24" height="18" fill="#e9e9e9"/>
<rect x="498" y="0" width="25" height="18" fill="#e9e9e9"/>
<rect x="658" y="0" width="25" height="18" fill="#e9e9e9"/>
<rect x="1132" y="0" width="25" height="18" fill="#e9e9e9"/>
<rect x="43" y="0" width="1" height="18" fill="#a0a0a0"/><rect x="44" y="0" width="1" height="18" fill="#ffffff"/>
<rect x="279" y="0" width="1" height="18" fill="#a0a0a0"/><rect x="280" y="0" width="1" height="18" fill="#ffffff"/>
<rect x="317" y="0" width="1" height="18" fill="#a0a0a0"/><rect x="318" y="0" width="1" height="18" fill="#ffffff"/>
<rect x="374" y="0" width="1" height="18" fill="#a0a0a0"/><rect x="375" y="0" width="1" height="18" fill="#ffffff"/>
<rect x="464" y="0" width="1" height="18" fill="#a0a0a0"/><rect x="465" y="0" width="1" height="18" fill="#ffffff"/>
<rect x="469" y="0" width="1" height="18" fill="#a0a0a0"/><rect x="470" y="0" width="1" height="18" fill="#ffffff"/>
<rect x="497" y="0" width="1" height="18" fill="#a0a0a0"/><rect x="498" y="0" width="1" height="18" fill="#ffffff"/>
<rect x="526" y="0" width="1" height="18" fill="#a0a0a0"/><rect x="527" y="0" width="1" height="18" fill="#ffffff"/>
<rect x="647" y="0" width="1" height="18" fill="#a0a0a0"/><rect x="648" y="0" width="1" height="18" fill="#ffffff"/>
<rect x="657" y="0" width="1" height="18" fill="#a0a0a0"/><rect x="658" y="0" width="1" height="18" fill="#ffffff"/>
<rect x="714" y="0" width="1" height="18" fill="#a0a0a0"/><rect x="715" y="0" width="1" height="18" fill="#ffffff"/>
<rect x="953" y="0" width="1" height="18" fill="#a0a0a0"/><rect x="954" y="0" width="1" height="18" fill="#ffffff"/>
<rect x="1131" y="0" width="1" height="18" fill="#a0a0a0"/><rect x="1132" y="0" width="1" height="18" fill="#ffffff"/>
<rect x="1214" y="0" width="1" height="18" fill="#a0a0a0"/><rect x="1215" y="0" width="1" height="18" fill="#ffffff"/>
<rect x="283" y="1" width="3" height="1" fill="#a8a8a8"/><rect x="283" y="3" width="3" height="1" fill="#a8a8a8"/><rect x="283" y="5" width="3" height="1" fill="#a8a8a8"/><rect x="283" y="7" width="3" height="1" fill="#a8a8a8"/><rect x="283" y="9" width="3" height="1" fill="#a8a8a8"/><rect x="283" y="11" width="3" height="1" fill="#a8a8a8"/><rect x="283" y="13" width="3" height="1" fill="#a8a8a8"/><rect x="283" y="15" width="3" height="1" fill="#a8a8a8"/><rect x="283" y="17" width="3" height="1" fill="#a8a8a8"/>
<rect x="651" y="1" width="3" height="1" fill="#a8a8a8"/><rect x="651" y="3" width="3" height="1" fill="#a8a8a8"/><rect x="651" y="5" width="3" height="1" fill="#a8a8a8"/><rect x="651" y="7" width="3" height="1" fill="#a8a8a8"/><rect x="651" y="9" width="3" height="1" fill="#a8a8a8"/><rect x="651" y="11" width="3" height="1" fill="#a8a8a8"/><rect x="651" y="13" width="3" height="1" fill="#a8a8a8"/><rect x="651" y="15" width="3" height="1" fill="#a8a8a8"/><rect x="651" y="17" width="3" height="1" fill="#a8a8a8"/>
<rect x="957" y="1" width="3" height="1" fill="#a8a8a8"/><rect x="957" y="3" width="3" height="1" fill="#a8a8a8"/><rect x="957" y="5" width="3" height="1" fill="#a8a8a8"/><rect x="957" y="7" width="3" height="1" fill="#a8a8a8"/><rect x="957" y="9" width="3" height="1" fill="#a8a8a8"/><rect x="957" y="11" width="3" height="1" fill="#a8a8a8"/><rect x="957" y="13" width="3" height="1" fill="#a8a8a8"/><rect x="957" y="15" width="3" height="1" fill="#a8a8a8"/><rect x="957" y="17" width="3" height="1" fill="#a8a8a8"/>
<text x="72" y="11" font-family="Liberation Sans, Noto Sans CJK SC, sans-serif" font-size="12" font-weight="500" fill="#000">新订单</text>
<text x="224.5" y="11.2" font-family="Liberation Sans, Noto Sans CJK SC, sans-serif" font-size="12" font-weight="500" fill="#000">自动交易</text>
<text x="968" y="12" font-family="Liberation Sans, Arial, sans-serif" font-size="9.6" fill="#3a3a3a" stroke="#3a3a3a" stroke-width="0.06">M1</text>
<text x="996.5" y="12" font-family="Liberation Sans, Arial, sans-serif" font-size="9.6" fill="#3a3a3a" stroke="#3a3a3a" stroke-width="0.06">M5</text>
<text x="1022.5" y="12" font-family="Liberation Sans, Arial, sans-serif" font-size="9.6" fill="#3a3a3a" stroke="#3a3a3a" stroke-width="0.06">M15</text>
<text x="1050" y="12" font-family="Liberation Sans, Arial, sans-serif" font-size="9.6" fill="#3a3a3a" stroke="#3a3a3a" stroke-width="0.06">M30</text>
<text x="1081" y="12" font-family="Liberation Sans, Arial, sans-serif" font-size="9.6" fill="#3a3a3a" stroke="#3a3a3a" stroke-width="0.06">H1</text>
<text x="1108" y="12" font-family="Liberation Sans, Arial, sans-serif" font-size="9.6" fill="#3a3a3a" stroke="#3a3a3a" stroke-width="0.06">H4</text>
<text x="1137" y="12" font-family="Liberation Sans, Arial, sans-serif" font-size="9.6" fill="#3a3a3a" stroke="#3a3a3a" stroke-width="0.06">D1</text>
<text x="1164.5" y="12" font-family="Liberation Sans, Arial, sans-serif" font-size="9.6" fill="#3a3a3a" stroke="#3a3a3a" stroke-width="0.06">W1</text>
<text x="1191" y="12" font-family="Liberation Sans, Arial, sans-serif" font-size="9.6" fill="#3a3a3a" stroke="#3a3a3a" stroke-width="0.06">MN</text>
<rect x="-3.5" y="0.5" width="9" height="14" rx="1" fill="#ffffff" stroke="#2f6fc9" stroke-width="1"/>
<path d="M-2 3.5h6M-2 5.5h6M-2 7.5h6M-2 9.5h6M-2 11.5h6" stroke="#8fb4e6" stroke-width="0.8"/>
<path d="M7.5 15l1.5 1.5-1.5 1.5-1.5-1.5z" fill="none" stroke="#000" stroke-width="0.9"/>
<rect x="18.5" y="0.5" width="11" height="13" fill="#f8f8f8" stroke="#a89f8a"/>
<path d="M21 2v9M20 9h8M24 3v6M27 2v5" stroke="#7a8896" stroke-width="0.8" fill="none"/>
<circle cx="26.5" cy="8.5" r="4.8" fill="#d8e8f8" fill-opacity="0.85" stroke="#7fa8d8" stroke-width="1.2"/>
<path d="M30 12l4.5 4.5" stroke="#c8980a" stroke-width="2.2"/>
<path d="M53.5 0.5h7l3.5 3.5v10h-10.5z" fill="#fff" stroke="#555"/>
<path d="M55.5 2.5h2v1.5h-2z" fill="#888"/><path d="M55 6.5h6M55 8.5h6M55 10.5h4" stroke="#888" stroke-width="0.8"/>
<path d="M62.5 6.5v11M57 12h11" stroke="#139613" stroke-width="4"/>
<path d="M62.5 7.5v9M58 12h9" stroke="#2ee02e" stroke-width="2.4"/>
<path d="M120 8.5l6.5-7.5 9 7-6.5 7.5z" fill="#e8bd2a" stroke="#9a6a08" stroke-width="0.9"/>
<path d="M121 10l8 5.5 6.5-7" stroke="#8a5a05" stroke-width="1.3" fill="none"/>
<path d="M123 8l4-4.5 5 4" stroke="#f8e080" stroke-width="1" fill="none"/>
<path d="M150.5 0.5h10v10h-10z" fill="#3d8fe0" stroke="#2060b0" stroke-width="0.8"/>
<path d="M152 3h7M152 5.5h7" stroke="#bfe0ff" stroke-width="0.9"/>
<path d="M149 15.5h14.5c1.5 0 2-3-0.5-3.5c0-2.5-4-3.5-5.5-1.5c-1-2-5-2-5.5 1c-2.5-0.5-4 3.5-3 4z" fill="#f4f7fc" stroke="#6d8fbf" stroke-width="0.9"/>
<circle cx="184" cy="7.5" r="7.3" fill="none" stroke="#a8c4e8" stroke-width="1"/>
<circle cx="184" cy="7.5" r="4.8" fill="none" stroke="#6a9ad6" stroke-width="1"/>
<path d="M188.5 11a6.5 6.5 0 0 1-4.5 3" stroke="#50b050" stroke-width="1.3" fill="none"/>
<circle cx="184" cy="7.3" r="1.8" fill="#2850b8"/>
<path d="M184.5 8v7.5" stroke="#20a020" stroke-width="1.2"/>
<path d="M203.5 6.5l14.5 0-4 8.5h-6z" fill="#f5d640" stroke="#b89020" stroke-width="0.7"/>
<ellipse cx="211" cy="4.2" rx="7.8" ry="2.8" fill="#58a4e0" stroke="#2f78c0" stroke-width="0.7"/>
<ellipse cx="211" cy="2.5" rx="3" ry="2.5" fill="#7ab8ea"/>
<circle cx="215.5" cy="12.3" r="4.3" fill="#d01818"/>
<rect x="213.8" y="10.6" width="3.4" height="3.4" fill="#fff"/>
<path d="M297.5 2.5v13M295.5 14.5h13" stroke="#555" stroke-width="1" fill="none"/><path d="M297.5 1.5l-2 2.5h4z M310 14.5l-2.5 -2v4z" fill="#555"/>
<path d="M302.5 11.5v-5.5h3" stroke="#1a9a1a" stroke-width="1.2" fill="none"/><path d="M301 11.5h2" stroke="#1a9a1a" stroke-width="1.2"/>
<path d="M325.5 2.5v13M323.5 14.5h13" stroke="#555" stroke-width="1" fill="none"/><path d="M325.5 1.5l-2 2.5h4z M338 14.5l-2.5 -2v4z" fill="#555"/>
<rect x="329" y="2" width="5" height="8" fill="#22c822" stroke="#108010" stroke-width="0.8"/><path d="M331.5 0v12" stroke="#108010" stroke-width="1"/>
<path d="M353.5 2.5v13M351.5 14.5h13" stroke="#555" stroke-width="1" fill="none"/><path d="M353.5 1.5l-2 2.5h4z M366 14.5l-2.5 -2v4z" fill="#555"/>
<path d="M352.5 10.5c2-3 4-5.5 6-5.5s3 2 5.5 4" stroke="#1a9a1a" stroke-width="1.1" fill="none"/>
<path d="M392.5 10l4.5 4.8" stroke="#b8860b" stroke-width="2.6"/><path d="M392.5 10l4.5 4.8" stroke="#f0c030" stroke-width="1.2"/>
<circle cx="388.5" cy="5.8" r="4.8" fill="#dcecfb" stroke="#2a6fd0" stroke-width="1.3"/>
<path d="M386.0 5.8h5" stroke="#2a6fd0" stroke-width="1.6"/>
<path d="M388.5 3.3v5" stroke="#2a6fd0" stroke-width="1.6"/>
<path d="M421 10l4.5 4.8" stroke="#b8860b" stroke-width="2.6"/><path d="M421 10l4.5 4.8" stroke="#f0c030" stroke-width="1.2"/>
<circle cx="417" cy="5.8" r="4.8" fill="#dcecfb" stroke="#2a6fd0" stroke-width="1.3"/>
<path d="M414.5 5.8h5" stroke="#2a6fd0" stroke-width="1.6"/>
<rect x="439" y="0" width="7.5" height="7.5" fill="#3aa53a"/>
<rect x="440" y="3" width="5.5" height="2" fill="#fff"/>
<rect x="447" y="0" width="7.5" height="7.5" fill="#2f6fd8"/>
<rect x="448" y="3" width="5.5" height="2" fill="#fff"/>
<rect x="439" y="8" width="7.5" height="7.5" fill="#2f6fd8"/>
<rect x="440" y="11" width="5.5" height="2" fill="#fff"/>
<rect x="447" y="8" width="7.5" height="7.5" fill="#3aa53a"/>
<rect x="448" y="11" width="5.5" height="2" fill="#fff"/>
<path d="M477.5 2.5v13M475.5 14.5h13" stroke="#555" stroke-width="1" fill="none"/><path d="M477.5 1.5l-2 2.5h4z M490 14.5l-2.5 -2v4z" fill="#555"/>
<path d="M482.5 4.5l4 3-4 3z" fill="#fff" stroke="#22a022" stroke-width="1.2"/>
<path d="M505.5 2.5v13M503.5 14.5h13" stroke="#555" stroke-width="1" fill="none"/><path d="M505.5 1.5l-2 2.5h4z M518 14.5l-2.5 -2v4z" fill="#555"/>
<path d="M511 2v10" stroke="#2060c0" stroke-width="1.2"/><path d="M512 7.5l4-3v6z" fill="#e05010"/>
<path d="M536.5 0.5h6l3.5 3.5v10h-9.5z" fill="#fff" stroke="#666"/>
<path d="M544.5 6.5v11M539 12h11" stroke="#139613" stroke-width="4"/><path d="M544.5 7.5v9M540 12h9" stroke="#2ee02e" stroke-width="2.4"/>
<path d="M557.5 7.5h6l-3 3z" fill="#000"/>
<circle cx="582" cy="7.5" r="7.5" fill="#1e6fd0"/><circle cx="582" cy="7.5" r="5.3" fill="#fbfbfb"/><path d="M582 4v3.5h2.5" stroke="#333" stroke-width="1" fill="none"/>
<path d="M597 7.5h6l-3 3z" fill="#000"/>
<rect x="613.5" y="1.5" width="15" height="13" fill="#fff" stroke="#2a68c0"/><rect x="614" y="2" width="14" height="2" fill="#5a9ae0"/><path d="M615.5 8l3-1.5 3 1 3-1.5 3 0.5" stroke="#c03020" fill="none"/><path d="M615.5 12l3-1.5 2.5 1 3-2 3 1" stroke="#2a9a2a" fill="none"/>
<path d="M635.5 7.5h6l-3 3z" fill="#000"/>
<path d="M665.5 1v13l3-3 2.5 4.5 2-1-2.5-4.5h4z" fill="#333"/>
<path d="M697.5 1v6M697.5 10v6M690 8.5h6M699 8.5h6" stroke="#555"/>
<path d="M731.5 2v13" stroke="#555" stroke-width="1.2"/>
<path d="M754 8.5h12" stroke="#555" stroke-width="1.2"/>
<path d="M782 15l12-12.5" stroke="#555" stroke-width="1.1"/>
<path d="M808 11l9-8M810 14l9-8M808 11l2 3M811 8.5l2 3M814 6l2 3M817 3l2 3" stroke="#555" stroke-width="0.9" fill="none"/>
<text x="818.5" y="17" font-family="Liberation Sans, Arial, sans-serif" font-size="6.5" font-weight="bold" fill="#444">E</text>
<path d="M837 1.5h12M837 4.5h12M837 8.5h12M837 12.5h8" stroke="#666" stroke-dasharray="1 1"/>
<text x="846" y="17" font-family="Liberation Sans, Arial, sans-serif" font-size="6.5" font-weight="bold" fill="#444">F</text>
<text x="867.5" y="12.8" font-family="Liberation Sans, Arial, sans-serif" font-size="12" font-weight="bold" fill="#555">A</text>
<rect x="894" y="2" width="12" height="12.5" fill="none" stroke="#666" stroke-dasharray="1 1"/>
<text x="896.5" y="12.8" font-family="Liberation Sans, Arial, sans-serif" font-size="11" font-weight="bold" fill="#555">T</text>
<path d="M924 2l3 3-3 3-3-3zM932 9l3 3-3 3-3-3z" fill="#555"/><path d="M922.5 7.5l3 3 5-5" stroke="#555" stroke-width="1.4" fill="none"/>
<path d="M941.5 7.5h6l-3 3z" fill="#000"/>
<path d="M1682 8.5l-4.5 4.5" stroke="#1f56c8" stroke-width="2.4"/>
<circle cx="1684.5" cy="5.5" r="3.6" fill="#fff" stroke="#2a62d0" stroke-width="1.4"/>
<ellipse cx="1706" cy="11" rx="5.8" ry="4.6" fill="#e2e2ea" stroke="#b0b0b8"/><path d="M1703.5 15l-0.5 2.5 3-2.5" fill="#d0d0d8" stroke="#b0b0b8" stroke-width="0.6"/>
<circle cx="1715.4" cy="6.2" r="8.1" fill="#d83a20"/>
<text x="1712.3" y="10.2" font-family="Liberation Sans, Arial, sans-serif" font-size="10.5" fill="#fff">1</text>
<defs><linearGradient id="rg" x1="0" y1="0" x2="0" y2="1"><stop offset="0" stop-color="#f05050"/><stop offset="1" stop-color="#c81818"/></linearGradient><linearGradient id="rg2" x1="0" y1="0" x2="0" y2="1"><stop offset="0" stop-color="#dc2424"/><stop offset="1" stop-color="#b00202"/></linearGradient><linearGradient id="gb" x1="0" y1="0" x2="0" y2="1"><stop offset="0" stop-color="#f4f4f4"/><stop offset="1" stop-color="#d4d4d4"/></linearGradient></defs>
<g shape-rendering="crispEdges">
<rect x="0" y="44" width="50" height="25" fill="url(#rg)"/>
<rect x="166" y="44" width="51" height="25" fill="url(#rg)"/>
<rect x="0" y="68" width="108" height="33" fill="url(#rg2)"/>
<rect x="109" y="68" width="108" height="33" fill="url(#rg2)"/>
<rect x="50" y="44" width="116" height="24" fill="#ffffff"/>
<rect x="52.5" y="44.5" width="110" height="21" fill="#fff" stroke="#a8a8a8"/>
<rect x="53.5" y="45.5" width="19" height="19" fill="url(#gb)" stroke="#c4c4c4"/>
<rect x="141.5" y="45.5" width="20" height="19" fill="url(#gb)" stroke="#c4c4c4"/>
<rect x="2" y="67" width="44" height="1" fill="#f08080"/>
<rect x="169" y="67" width="44" height="1" fill="#f08080"/>
</g>
<path d="M60.5 53.5h4l-2 2.5z" fill="#4060c0"/>
<path d="M149.5 56h4l-2-2.5z" fill="#4060c0"/>
<text x="138.5" y="59" font-family="Liberation Sans, Arial, sans-serif" font-size="13" fill="#000" text-anchor="end">1.00</text>
<text x="10.3" y="60" font-family="Liberation Sans, Arial, sans-serif" font-size="12.3" fill="#fff" textLength="26" lengthAdjust="spacingAndGlyphs">SELL</text>
<text x="178.5" y="60" font-family="Liberation Sans, Arial, sans-serif" font-size="12.3" fill="#fff" textLength="23" lengthAdjust="spacingAndGlyphs">BUY</text>
<text x="14.3" y="96" font-family="Liberation Sans, Arial, sans-serif" font-size="12.6" font-weight="bold" fill="#fff" textLength="33.8" lengthAdjust="spacingAndGlyphs">29126</text>
<rect x="53.599999999999994" y="91.3" width="4.2" height="4.4" rx="1" fill="#fff"/>
<text transform="translate(59.3 95.7) scale(0.9 1)" font-family="Liberation Sans, Arial, sans-serif" font-size="33" fill="#fff">5</text>
<text x="124.3" y="96" font-family="Liberation Sans, Arial, sans-serif" font-size="12.6" font-weight="bold" fill="#fff" textLength="33.8" lengthAdjust="spacingAndGlyphs">29152</text>
<rect x="163.6" y="91.3" width="4.2" height="4.4" rx="1" fill="#fff"/>
<text transform="translate(169.3 95.7) scale(0.9 1)" font-family="Liberation Sans, Arial, sans-serif" font-size="33" fill="#fff">5</text>
</svg>
</body></html>
